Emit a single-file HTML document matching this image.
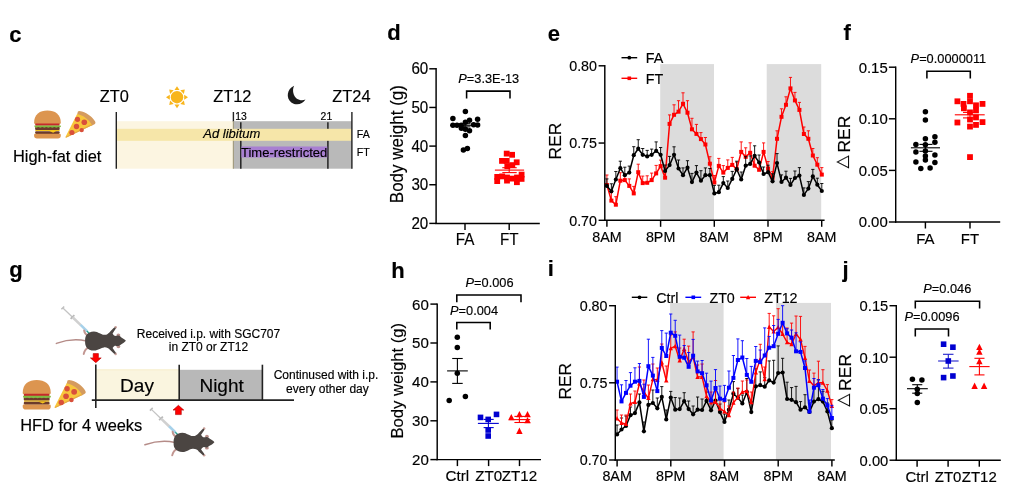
<!DOCTYPE html>
<html lang="en">
<head>
<meta charset="utf-8">
<title>Figure panels c-j</title>
<style>
html,body{margin:0;padding:0;background:#fff;}
body{width:1020px;height:494px;overflow:hidden;}
svg{display:block;filter:blur(0.38px);font-family:'Liberation Sans', Arial, sans-serif;}
svg text{stroke:#000;stroke-width:0.16px;font-family:'Liberation Sans', Arial, sans-serif;}
</style>
</head>
<body>
<svg width="1020" height="494" viewBox="0 0 1020 494">
<rect x="0" y="0" width="1020" height="494" fill="#ffffff"/>
<text transform="translate(9.3 42.4)" font-size="22" font-weight="bold">c</text>
<text transform="translate(387.3 40)" font-size="22" font-weight="bold">d</text>
<text transform="translate(547.7 40.8)" font-size="22" font-weight="bold">e</text>
<text transform="translate(843.5 40)" font-size="22" font-weight="bold">f</text>
<text transform="translate(9.3 277.3)" font-size="22" font-weight="bold">g</text>
<text transform="translate(391.3 277.5)" font-size="22" font-weight="bold">h</text>
<text transform="translate(547.8 276.4)" font-size="22" font-weight="bold">i</text>
<text transform="translate(842.5 277.3)" font-size="22" font-weight="bold">j</text>
<g id="panel-c">
<rect x="116.30" y="121.20" width="117.10" height="47.50" fill="#fcf5e1"/>
<rect x="233.40" y="121.20" width="118.50" height="47.50" fill="#b9b9b9"/>
<line x1="233.40" y1="112.00" x2="233.40" y2="121.60" stroke="#222" stroke-width="1.4"/>
<line x1="233.40" y1="121.20" x2="233.40" y2="168.70" stroke="#a39c80" stroke-width="1.2"/>
<line x1="240.80" y1="122.30" x2="240.80" y2="168.70" stroke="#222" stroke-width="1.5"/>
<line x1="327.90" y1="122.30" x2="327.90" y2="168.70" stroke="#222" stroke-width="1.5"/>
<rect x="241.50" y="146.50" width="85.70" height="11.00" fill="#a87fd1"/>
<rect x="116.30" y="128.80" width="235.60" height="12.00" fill="#f6e6a9"/>
<line x1="116.30" y1="112.00" x2="116.30" y2="168.70" stroke="#222" stroke-width="1.4"/>
<line x1="351.90" y1="112.00" x2="351.90" y2="168.70" stroke="#222" stroke-width="1.4"/>
<text transform="translate(114.3 102.3) scale(0.976 1)" font-size="16.8" text-anchor="middle">ZT0</text>
<text transform="translate(232.3 102.3) scale(0.976 1)" font-size="16.8" text-anchor="middle">ZT12</text>
<text transform="translate(351.4 102.3) scale(0.976 1)" font-size="16.8" text-anchor="middle">ZT24</text>
<text transform="translate(235.2 120)" font-size="10.4">13</text>
<text transform="translate(320.6 120)" font-size="10.4">21</text>
<text transform="translate(231.8 138.1)" font-size="13" text-anchor="middle" font-style="italic">Ad libitum</text>
<text transform="translate(284.1 156.6)" font-size="13" text-anchor="middle">Time-restricted</text>
<text transform="translate(356.8 138.3)" font-size="10.6">FA</text>
<text transform="translate(356.8 156.4)" font-size="10.6">FT</text>
<g transform="translate(33.8,110.2) scale(1.0)">
<path d="M0.3,12.6 C0.3,4 6,0.3 13.6,0.3 C21.2,0.3 27,4 27,12.6 C27,13.4 26.4,13.8 25.6,13.8 L1.7,13.8 C0.9,13.8 0.3,13.4 0.3,12.6 Z" fill="#dc9550"/>
<rect x="1.4" y="13.3" width="24.4" height="2.2" rx="0.8" fill="#c62a2c"/>
<rect x="1.3" y="16.6" width="24.6" height="3.4" rx="1.1" fill="#6b3a2b"/>
<path d="M0.6,15.2 L26.8,15.2 L27.2,16.3 L26,17.4 L24.5,16.9 L22.5,17.6 L20.5,16.9 L18.5,17.6 L16.5,16.9 L14.5,17.6 L12.5,16.9 L10.5,17.6 L8.5,16.9 L6.5,17.6 L4.5,16.9 L2.5,17.6 L0.8,16.9 Z" fill="#7fba3f"/>
<path d="M1.5,19.7 L25.8,19.7 L25.8,20.8 L22.5,20.8 L19.4,22.6 L15.5,20.9 L1.5,20.9 Z" fill="#f6c41c"/>
<rect x="1.3" y="21" width="24.6" height="2.7" rx="1.1" fill="#6b3a2b"/>
<path d="M15.5,20.9 L22.5,20.8 L19.4,22.6 Z" fill="#f6c41c"/>
<path d="M0.3,24.6 C0.3,23.9 0.9,23.5 1.6,23.5 L25.7,23.5 C26.4,23.5 27,23.9 27,24.6 L27,25.6 C27,27.4 25.8,28.3 24.2,28.3 L3.1,28.3 C1.5,28.3 0.3,27.4 0.3,25.6 Z" fill="#dc9550"/>
</g>
<g transform="translate(65.5,110.9) scale(1.0)">
<path d="M12.4,0.6 C13,-0.2 14.5,-0.1 16.5,0.6 C22.5,2.6 27.3,6.3 29.6,10.6 C30.2,11.8 30,12.8 29,13.3 L26.2,14.9 L11.6,3.6 Z" fill="#d59b5e"/>
<path d="M11.6,3.2 C18,4.6 23,8.4 26.6,14.4 L1,26.6 C0.2,27 -0.3,26.4 0.2,25.6 Z" fill="#f8c63c"/>
<path d="M26.6,14.4 L1,26.6 C0.4,26.9 0,26.6 0,26.2 L26,13.4 Z" fill="#e3a647"/>
<circle cx="12.0" cy="8.4" r="2.6" fill="#d9503b"/>
<circle cx="18.8" cy="11.4" r="2.8" fill="#d9503b"/>
<circle cx="11.0" cy="15.6" r="2.7" fill="#d9503b"/>
<circle cx="6.4" cy="21.6" r="2.6" fill="#d9503b"/>
<circle cx="16.2" cy="19.2" r="2.2" fill="#d9503b"/>
</g>
<g transform="translate(177,97.2)">
<circle cx="0" cy="0" r="6.2" fill="#f8b51c"/>
<polygon points="-2.5,-7.2 2.5,-7.2 0,-11" fill="#f8b51c" transform="rotate(0)"/>
<polygon points="-2.5,-7.2 2.5,-7.2 0,-11" fill="#f8b51c" transform="rotate(45)"/>
<polygon points="-2.5,-7.2 2.5,-7.2 0,-11" fill="#f8b51c" transform="rotate(90)"/>
<polygon points="-2.5,-7.2 2.5,-7.2 0,-11" fill="#f8b51c" transform="rotate(135)"/>
<polygon points="-2.5,-7.2 2.5,-7.2 0,-11" fill="#f8b51c" transform="rotate(180)"/>
<polygon points="-2.5,-7.2 2.5,-7.2 0,-11" fill="#f8b51c" transform="rotate(225)"/>
<polygon points="-2.5,-7.2 2.5,-7.2 0,-11" fill="#f8b51c" transform="rotate(270)"/>
<polygon points="-2.5,-7.2 2.5,-7.2 0,-11" fill="#f8b51c" transform="rotate(315)"/>
</g>
<path transform="translate(296.7,95)" d="M-2.6,-9.2 C-9.8,-6 -11,3.2 -5.4,7.4 C-0.8,10.8 5.8,9.6 8.8,4.6 C3.6,6.4 -1.4,4 -3,-0.8 C-4,-3.8 -3.8,-6.6 -2.6,-9.2 Z" fill="#1b1b1b"/>
<text transform="translate(13.0 162.2)" font-size="16.4">High-fat diet</text>
</g>
<g id="panel-d">
<line x1="436.10" y1="68.08" x2="436.10" y2="224.12" stroke="#000" stroke-width="1.45"/>
<line x1="429.30" y1="68.80" x2="436.10" y2="68.80" stroke="#000" stroke-width="1.45"/>
<text transform="translate(428.3 74.2) scale(0.96 1)" font-size="15.8" text-anchor="end">60</text>
<line x1="429.30" y1="107.45" x2="436.10" y2="107.45" stroke="#000" stroke-width="1.45"/>
<text transform="translate(428.3 112.85000000000001) scale(0.96 1)" font-size="15.8" text-anchor="end">50</text>
<line x1="429.30" y1="146.10" x2="436.10" y2="146.10" stroke="#000" stroke-width="1.45"/>
<text transform="translate(428.3 151.5) scale(0.96 1)" font-size="15.8" text-anchor="end">40</text>
<line x1="429.30" y1="184.75" x2="436.10" y2="184.75" stroke="#000" stroke-width="1.45"/>
<text transform="translate(428.3 190.15) scale(0.96 1)" font-size="15.8" text-anchor="end">30</text>
<line x1="429.30" y1="223.40" x2="436.10" y2="223.40" stroke="#000" stroke-width="1.45"/>
<text transform="translate(428.3 228.8) scale(0.96 1)" font-size="15.8" text-anchor="end">20</text>
<line x1="435.38" y1="223.40" x2="539.80" y2="223.40" stroke="#000" stroke-width="1.45"/>
<line x1="465.00" y1="223.40" x2="465.00" y2="229.90" stroke="#000" stroke-width="1.45"/>
<text transform="translate(465 245.1) scale(0.97 1)" font-size="15.7" text-anchor="middle">FA</text>
<line x1="509.20" y1="223.40" x2="509.20" y2="229.90" stroke="#000" stroke-width="1.45"/>
<text transform="translate(509.2 245.1) scale(0.97 1)" font-size="15.7" text-anchor="middle">FT</text>
<text transform="translate(403.2 203.2) rotate(-90) scale(0.972 1)" font-size="17.5">Body weight (g)</text>
<text transform="translate(458.3 83.3) scale(0.97 1)" font-size="13.2"><tspan font-style="italic">P</tspan>=3.3E-13</text>
<polyline points="466.60,98.60 466.60,91.10 510.00,91.10 510.00,98.60" fill="none" stroke="#000" stroke-width="1.55"/>
<line x1="450.00" y1="125.30" x2="479.80" y2="125.30" stroke="#000" stroke-width="1.1"/>
<line x1="465.00" y1="123.70" x2="465.00" y2="126.90" stroke="#000" stroke-width="1.1"/>
<line x1="459.50" y1="123.70" x2="470.50" y2="123.70" stroke="#000" stroke-width="1.1"/>
<line x1="459.50" y1="126.90" x2="470.50" y2="126.90" stroke="#000" stroke-width="1.1"/>
<circle cx="465.40" cy="111.50" r="2.75" fill="#000"/>
<circle cx="452.90" cy="118.60" r="2.75" fill="#000"/>
<circle cx="477.60" cy="119.20" r="2.75" fill="#000"/>
<circle cx="469.50" cy="120.20" r="2.75" fill="#000"/>
<circle cx="465.40" cy="122.30" r="2.75" fill="#000"/>
<circle cx="452.90" cy="125.30" r="2.75" fill="#000"/>
<circle cx="457.00" cy="125.30" r="2.75" fill="#000"/>
<circle cx="461.20" cy="125.30" r="2.75" fill="#000"/>
<circle cx="473.60" cy="124.80" r="2.75" fill="#000"/>
<circle cx="477.60" cy="125.00" r="2.75" fill="#000"/>
<circle cx="461.40" cy="128.30" r="2.75" fill="#000"/>
<circle cx="469.50" cy="130.80" r="2.75" fill="#000"/>
<circle cx="465.40" cy="129.30" r="2.75" fill="#000"/>
<circle cx="465.40" cy="135.40" r="2.75" fill="#000"/>
<circle cx="463.40" cy="150.00" r="2.75" fill="#000"/>
<circle cx="467.40" cy="148.40" r="2.75" fill="#000"/>
<rect x="503.80" y="150.70" width="5.80" height="5.80" fill="#ff0000"/>
<rect x="509.20" y="151.90" width="5.80" height="5.80" fill="#ff0000"/>
<rect x="499.10" y="158.00" width="5.80" height="5.80" fill="#ff0000"/>
<rect x="503.80" y="158.00" width="5.80" height="5.80" fill="#ff0000"/>
<rect x="513.80" y="159.40" width="5.80" height="5.80" fill="#ff0000"/>
<rect x="504.40" y="163.30" width="5.80" height="5.80" fill="#ff0000"/>
<rect x="509.40" y="162.20" width="5.80" height="5.80" fill="#ff0000"/>
<rect x="494.30" y="174.00" width="5.80" height="5.80" fill="#ff0000"/>
<rect x="494.30" y="178.20" width="5.80" height="5.80" fill="#ff0000"/>
<rect x="499.30" y="173.50" width="5.80" height="5.80" fill="#ff0000"/>
<rect x="504.10" y="174.60" width="5.80" height="5.80" fill="#ff0000"/>
<rect x="504.10" y="177.70" width="5.80" height="5.80" fill="#ff0000"/>
<rect x="509.10" y="175.70" width="5.80" height="5.80" fill="#ff0000"/>
<rect x="514.00" y="179.30" width="5.80" height="5.80" fill="#ff0000"/>
<rect x="514.10" y="174.60" width="5.80" height="5.80" fill="#ff0000"/>
<rect x="518.70" y="171.70" width="5.80" height="5.80" fill="#ff0000"/>
<rect x="518.70" y="176.00" width="5.80" height="5.80" fill="#ff0000"/>
<line x1="494.90" y1="170.10" x2="524.10" y2="170.10" stroke="#ff0000" stroke-width="1.1"/>
<line x1="509.20" y1="167.70" x2="509.20" y2="172.60" stroke="#ff0000" stroke-width="1.1"/>
<line x1="502.30" y1="167.70" x2="516.70" y2="167.70" stroke="#ff0000" stroke-width="1.1"/>
<line x1="502.30" y1="172.60" x2="516.70" y2="172.60" stroke="#ff0000" stroke-width="1.1"/>
</g>
<g id="panel-e">
<rect x="660.20" y="64.10" width="53.80" height="156.50" fill="#dcdcdc"/>
<rect x="766.70" y="64.10" width="54.50" height="156.50" fill="#dcdcdc"/>
<line x1="606.90" y1="185.00" x2="606.90" y2="175.00" stroke="#ff0000" stroke-width="0.9"/>
<line x1="605.30" y1="175.00" x2="608.50" y2="175.00" stroke="#ff0000" stroke-width="0.9"/>
<line x1="611.38" y1="200.60" x2="611.38" y2="192.60" stroke="#ff0000" stroke-width="0.9"/>
<line x1="609.78" y1="192.60" x2="612.98" y2="192.60" stroke="#ff0000" stroke-width="0.9"/>
<line x1="615.85" y1="204.70" x2="615.85" y2="196.70" stroke="#ff0000" stroke-width="0.9"/>
<line x1="614.25" y1="196.70" x2="617.45" y2="196.70" stroke="#ff0000" stroke-width="0.9"/>
<line x1="620.33" y1="180.70" x2="620.33" y2="172.70" stroke="#ff0000" stroke-width="0.9"/>
<line x1="618.73" y1="172.70" x2="621.93" y2="172.70" stroke="#ff0000" stroke-width="0.9"/>
<line x1="624.81" y1="180.10" x2="624.81" y2="174.10" stroke="#ff0000" stroke-width="0.9"/>
<line x1="623.21" y1="174.10" x2="626.41" y2="174.10" stroke="#ff0000" stroke-width="0.9"/>
<line x1="629.28" y1="185.90" x2="629.28" y2="178.90" stroke="#ff0000" stroke-width="0.9"/>
<line x1="627.68" y1="178.90" x2="630.88" y2="178.90" stroke="#ff0000" stroke-width="0.9"/>
<line x1="633.76" y1="193.40" x2="633.76" y2="186.40" stroke="#ff0000" stroke-width="0.9"/>
<line x1="632.16" y1="186.40" x2="635.36" y2="186.40" stroke="#ff0000" stroke-width="0.9"/>
<line x1="638.24" y1="172.20" x2="638.24" y2="164.20" stroke="#ff0000" stroke-width="0.9"/>
<line x1="636.64" y1="164.20" x2="639.84" y2="164.20" stroke="#ff0000" stroke-width="0.9"/>
<line x1="642.72" y1="183.10" x2="642.72" y2="176.10" stroke="#ff0000" stroke-width="0.9"/>
<line x1="641.12" y1="176.10" x2="644.32" y2="176.10" stroke="#ff0000" stroke-width="0.9"/>
<line x1="647.19" y1="182.80" x2="647.19" y2="175.80" stroke="#ff0000" stroke-width="0.9"/>
<line x1="645.59" y1="175.80" x2="648.79" y2="175.80" stroke="#ff0000" stroke-width="0.9"/>
<line x1="651.67" y1="180.10" x2="651.67" y2="173.10" stroke="#ff0000" stroke-width="0.9"/>
<line x1="650.07" y1="173.10" x2="653.27" y2="173.10" stroke="#ff0000" stroke-width="0.9"/>
<line x1="656.15" y1="173.40" x2="656.15" y2="165.40" stroke="#ff0000" stroke-width="0.9"/>
<line x1="654.55" y1="165.40" x2="657.75" y2="165.40" stroke="#ff0000" stroke-width="0.9"/>
<line x1="660.62" y1="166.10" x2="660.62" y2="160.10" stroke="#ff0000" stroke-width="0.9"/>
<line x1="659.02" y1="160.10" x2="662.22" y2="160.10" stroke="#ff0000" stroke-width="0.9"/>
<line x1="665.10" y1="177.70" x2="665.10" y2="171.70" stroke="#ff0000" stroke-width="0.9"/>
<line x1="663.50" y1="171.70" x2="666.70" y2="171.70" stroke="#ff0000" stroke-width="0.9"/>
<line x1="669.58" y1="123.90" x2="669.58" y2="114.90" stroke="#ff0000" stroke-width="0.9"/>
<line x1="667.98" y1="114.90" x2="671.18" y2="114.90" stroke="#ff0000" stroke-width="0.9"/>
<line x1="674.05" y1="114.80" x2="674.05" y2="104.80" stroke="#ff0000" stroke-width="0.9"/>
<line x1="672.45" y1="104.80" x2="675.65" y2="104.80" stroke="#ff0000" stroke-width="0.9"/>
<line x1="678.53" y1="111.70" x2="678.53" y2="100.70" stroke="#ff0000" stroke-width="0.9"/>
<line x1="676.93" y1="100.70" x2="680.13" y2="100.70" stroke="#ff0000" stroke-width="0.9"/>
<line x1="683.01" y1="103.80" x2="683.01" y2="92.80" stroke="#ff0000" stroke-width="0.9"/>
<line x1="681.41" y1="92.80" x2="684.61" y2="92.80" stroke="#ff0000" stroke-width="0.9"/>
<line x1="687.49" y1="112.70" x2="687.49" y2="100.70" stroke="#ff0000" stroke-width="0.9"/>
<line x1="685.89" y1="100.70" x2="689.09" y2="100.70" stroke="#ff0000" stroke-width="0.9"/>
<line x1="691.96" y1="129.30" x2="691.96" y2="118.30" stroke="#ff0000" stroke-width="0.9"/>
<line x1="690.36" y1="118.30" x2="693.56" y2="118.30" stroke="#ff0000" stroke-width="0.9"/>
<line x1="696.44" y1="133.90" x2="696.44" y2="124.40" stroke="#ff0000" stroke-width="0.9"/>
<line x1="694.84" y1="124.40" x2="698.04" y2="124.40" stroke="#ff0000" stroke-width="0.9"/>
<line x1="700.92" y1="139.10" x2="700.92" y2="132.60" stroke="#ff0000" stroke-width="0.9"/>
<line x1="699.32" y1="132.60" x2="702.52" y2="132.60" stroke="#ff0000" stroke-width="0.9"/>
<line x1="705.39" y1="144.50" x2="705.39" y2="137.50" stroke="#ff0000" stroke-width="0.9"/>
<line x1="703.79" y1="137.50" x2="706.99" y2="137.50" stroke="#ff0000" stroke-width="0.9"/>
<line x1="709.87" y1="163.70" x2="709.87" y2="156.70" stroke="#ff0000" stroke-width="0.9"/>
<line x1="708.27" y1="156.70" x2="711.47" y2="156.70" stroke="#ff0000" stroke-width="0.9"/>
<line x1="714.35" y1="182.50" x2="714.35" y2="175.50" stroke="#ff0000" stroke-width="0.9"/>
<line x1="712.75" y1="175.50" x2="715.95" y2="175.50" stroke="#ff0000" stroke-width="0.9"/>
<line x1="718.83" y1="165.90" x2="718.83" y2="158.40" stroke="#ff0000" stroke-width="0.9"/>
<line x1="717.23" y1="158.40" x2="720.43" y2="158.40" stroke="#ff0000" stroke-width="0.9"/>
<line x1="723.30" y1="172.60" x2="723.30" y2="165.60" stroke="#ff0000" stroke-width="0.9"/>
<line x1="721.70" y1="165.60" x2="724.90" y2="165.60" stroke="#ff0000" stroke-width="0.9"/>
<line x1="727.78" y1="167.90" x2="727.78" y2="159.90" stroke="#ff0000" stroke-width="0.9"/>
<line x1="726.18" y1="159.90" x2="729.38" y2="159.90" stroke="#ff0000" stroke-width="0.9"/>
<line x1="732.26" y1="164.90" x2="732.26" y2="157.40" stroke="#ff0000" stroke-width="0.9"/>
<line x1="730.66" y1="157.40" x2="733.86" y2="157.40" stroke="#ff0000" stroke-width="0.9"/>
<line x1="736.73" y1="169.20" x2="736.73" y2="162.20" stroke="#ff0000" stroke-width="0.9"/>
<line x1="735.13" y1="162.20" x2="738.33" y2="162.20" stroke="#ff0000" stroke-width="0.9"/>
<line x1="741.21" y1="151.90" x2="741.21" y2="141.90" stroke="#ff0000" stroke-width="0.9"/>
<line x1="739.61" y1="141.90" x2="742.81" y2="141.90" stroke="#ff0000" stroke-width="0.9"/>
<line x1="745.69" y1="156.80" x2="745.69" y2="147.80" stroke="#ff0000" stroke-width="0.9"/>
<line x1="744.09" y1="147.80" x2="747.29" y2="147.80" stroke="#ff0000" stroke-width="0.9"/>
<line x1="750.16" y1="152.80" x2="750.16" y2="142.80" stroke="#ff0000" stroke-width="0.9"/>
<line x1="748.56" y1="142.80" x2="751.76" y2="142.80" stroke="#ff0000" stroke-width="0.9"/>
<line x1="754.64" y1="165.70" x2="754.64" y2="157.70" stroke="#ff0000" stroke-width="0.9"/>
<line x1="753.04" y1="157.70" x2="756.24" y2="157.70" stroke="#ff0000" stroke-width="0.9"/>
<line x1="759.12" y1="169.80" x2="759.12" y2="162.80" stroke="#ff0000" stroke-width="0.9"/>
<line x1="757.52" y1="162.80" x2="760.72" y2="162.80" stroke="#ff0000" stroke-width="0.9"/>
<line x1="763.60" y1="151.90" x2="763.60" y2="142.90" stroke="#ff0000" stroke-width="0.9"/>
<line x1="762.00" y1="142.90" x2="765.20" y2="142.90" stroke="#ff0000" stroke-width="0.9"/>
<line x1="768.07" y1="168.50" x2="768.07" y2="161.50" stroke="#ff0000" stroke-width="0.9"/>
<line x1="766.47" y1="161.50" x2="769.67" y2="161.50" stroke="#ff0000" stroke-width="0.9"/>
<line x1="772.55" y1="177.70" x2="772.55" y2="171.70" stroke="#ff0000" stroke-width="0.9"/>
<line x1="770.95" y1="171.70" x2="774.15" y2="171.70" stroke="#ff0000" stroke-width="0.9"/>
<line x1="777.03" y1="138.80" x2="777.03" y2="130.80" stroke="#ff0000" stroke-width="0.9"/>
<line x1="775.43" y1="130.80" x2="778.63" y2="130.80" stroke="#ff0000" stroke-width="0.9"/>
<line x1="781.50" y1="116.80" x2="781.50" y2="108.80" stroke="#ff0000" stroke-width="0.9"/>
<line x1="779.90" y1="108.80" x2="783.10" y2="108.80" stroke="#ff0000" stroke-width="0.9"/>
<line x1="785.98" y1="104.80" x2="785.98" y2="96.80" stroke="#ff0000" stroke-width="0.9"/>
<line x1="784.38" y1="96.80" x2="787.58" y2="96.80" stroke="#ff0000" stroke-width="0.9"/>
<line x1="790.46" y1="88.40" x2="790.46" y2="77.40" stroke="#ff0000" stroke-width="0.9"/>
<line x1="788.86" y1="77.40" x2="792.06" y2="77.40" stroke="#ff0000" stroke-width="0.9"/>
<line x1="794.93" y1="100.40" x2="794.93" y2="92.40" stroke="#ff0000" stroke-width="0.9"/>
<line x1="793.33" y1="92.40" x2="796.53" y2="92.40" stroke="#ff0000" stroke-width="0.9"/>
<line x1="799.41" y1="109.90" x2="799.41" y2="102.40" stroke="#ff0000" stroke-width="0.9"/>
<line x1="797.81" y1="102.40" x2="801.01" y2="102.40" stroke="#ff0000" stroke-width="0.9"/>
<line x1="803.89" y1="134.00" x2="803.89" y2="127.00" stroke="#ff0000" stroke-width="0.9"/>
<line x1="802.29" y1="127.00" x2="805.49" y2="127.00" stroke="#ff0000" stroke-width="0.9"/>
<line x1="808.37" y1="138.80" x2="808.37" y2="130.80" stroke="#ff0000" stroke-width="0.9"/>
<line x1="806.76" y1="130.80" x2="809.97" y2="130.80" stroke="#ff0000" stroke-width="0.9"/>
<line x1="812.84" y1="155.50" x2="812.84" y2="148.50" stroke="#ff0000" stroke-width="0.9"/>
<line x1="811.24" y1="148.50" x2="814.44" y2="148.50" stroke="#ff0000" stroke-width="0.9"/>
<line x1="817.32" y1="164.70" x2="817.32" y2="157.70" stroke="#ff0000" stroke-width="0.9"/>
<line x1="815.72" y1="157.70" x2="818.92" y2="157.70" stroke="#ff0000" stroke-width="0.9"/>
<line x1="821.80" y1="174.60" x2="821.80" y2="167.60" stroke="#ff0000" stroke-width="0.9"/>
<line x1="820.20" y1="167.60" x2="823.40" y2="167.60" stroke="#ff0000" stroke-width="0.9"/>
<polyline points="606.90,185.00 611.38,200.60 615.85,204.70 620.33,180.70 624.81,180.10 629.28,185.90 633.76,193.40 638.24,172.20 642.72,183.10 647.19,182.80 651.67,180.10 656.15,173.40 660.62,166.10 665.10,177.70 669.58,123.90 674.05,114.80 678.53,111.70 683.01,103.80 687.49,112.70 691.96,129.30 696.44,133.90 700.92,139.10 705.39,144.50 709.87,163.70 714.35,182.50 718.83,165.90 723.30,172.60 727.78,167.90 732.26,164.90 736.73,169.20 741.21,151.90 745.69,156.80 750.16,152.80 754.64,165.70 759.12,169.80 763.60,151.90 768.07,168.50 772.55,177.70 777.03,138.80 781.50,116.80 785.98,104.80 790.46,88.40 794.93,100.40 799.41,109.90 803.89,134.00 808.37,138.80 812.84,155.50 817.32,164.70 821.80,174.60" fill="none" stroke="#ff0000" stroke-width="1.5" stroke-linejoin="round"/>
<rect x="604.90" y="183.00" width="4.00" height="4.00" fill="#ff0000"/>
<rect x="609.38" y="198.60" width="4.00" height="4.00" fill="#ff0000"/>
<rect x="613.85" y="202.70" width="4.00" height="4.00" fill="#ff0000"/>
<rect x="618.33" y="178.70" width="4.00" height="4.00" fill="#ff0000"/>
<rect x="622.81" y="178.10" width="4.00" height="4.00" fill="#ff0000"/>
<rect x="627.28" y="183.90" width="4.00" height="4.00" fill="#ff0000"/>
<rect x="631.76" y="191.40" width="4.00" height="4.00" fill="#ff0000"/>
<rect x="636.24" y="170.20" width="4.00" height="4.00" fill="#ff0000"/>
<rect x="640.72" y="181.10" width="4.00" height="4.00" fill="#ff0000"/>
<rect x="645.19" y="180.80" width="4.00" height="4.00" fill="#ff0000"/>
<rect x="649.67" y="178.10" width="4.00" height="4.00" fill="#ff0000"/>
<rect x="654.15" y="171.40" width="4.00" height="4.00" fill="#ff0000"/>
<rect x="658.62" y="164.10" width="4.00" height="4.00" fill="#ff0000"/>
<rect x="663.10" y="175.70" width="4.00" height="4.00" fill="#ff0000"/>
<rect x="667.58" y="121.90" width="4.00" height="4.00" fill="#ff0000"/>
<rect x="672.05" y="112.80" width="4.00" height="4.00" fill="#ff0000"/>
<rect x="676.53" y="109.70" width="4.00" height="4.00" fill="#ff0000"/>
<rect x="681.01" y="101.80" width="4.00" height="4.00" fill="#ff0000"/>
<rect x="685.49" y="110.70" width="4.00" height="4.00" fill="#ff0000"/>
<rect x="689.96" y="127.30" width="4.00" height="4.00" fill="#ff0000"/>
<rect x="694.44" y="131.90" width="4.00" height="4.00" fill="#ff0000"/>
<rect x="698.92" y="137.10" width="4.00" height="4.00" fill="#ff0000"/>
<rect x="703.39" y="142.50" width="4.00" height="4.00" fill="#ff0000"/>
<rect x="707.87" y="161.70" width="4.00" height="4.00" fill="#ff0000"/>
<rect x="712.35" y="180.50" width="4.00" height="4.00" fill="#ff0000"/>
<rect x="716.83" y="163.90" width="4.00" height="4.00" fill="#ff0000"/>
<rect x="721.30" y="170.60" width="4.00" height="4.00" fill="#ff0000"/>
<rect x="725.78" y="165.90" width="4.00" height="4.00" fill="#ff0000"/>
<rect x="730.26" y="162.90" width="4.00" height="4.00" fill="#ff0000"/>
<rect x="734.73" y="167.20" width="4.00" height="4.00" fill="#ff0000"/>
<rect x="739.21" y="149.90" width="4.00" height="4.00" fill="#ff0000"/>
<rect x="743.69" y="154.80" width="4.00" height="4.00" fill="#ff0000"/>
<rect x="748.16" y="150.80" width="4.00" height="4.00" fill="#ff0000"/>
<rect x="752.64" y="163.70" width="4.00" height="4.00" fill="#ff0000"/>
<rect x="757.12" y="167.80" width="4.00" height="4.00" fill="#ff0000"/>
<rect x="761.60" y="149.90" width="4.00" height="4.00" fill="#ff0000"/>
<rect x="766.07" y="166.50" width="4.00" height="4.00" fill="#ff0000"/>
<rect x="770.55" y="175.70" width="4.00" height="4.00" fill="#ff0000"/>
<rect x="775.03" y="136.80" width="4.00" height="4.00" fill="#ff0000"/>
<rect x="779.50" y="114.80" width="4.00" height="4.00" fill="#ff0000"/>
<rect x="783.98" y="102.80" width="4.00" height="4.00" fill="#ff0000"/>
<rect x="788.46" y="86.40" width="4.00" height="4.00" fill="#ff0000"/>
<rect x="792.93" y="98.40" width="4.00" height="4.00" fill="#ff0000"/>
<rect x="797.41" y="107.90" width="4.00" height="4.00" fill="#ff0000"/>
<rect x="801.89" y="132.00" width="4.00" height="4.00" fill="#ff0000"/>
<rect x="806.37" y="136.80" width="4.00" height="4.00" fill="#ff0000"/>
<rect x="810.84" y="153.50" width="4.00" height="4.00" fill="#ff0000"/>
<rect x="815.32" y="162.70" width="4.00" height="4.00" fill="#ff0000"/>
<rect x="819.80" y="172.60" width="4.00" height="4.00" fill="#ff0000"/>
<line x1="606.90" y1="185.90" x2="606.90" y2="178.90" stroke="#000" stroke-width="0.9"/>
<line x1="605.30" y1="178.90" x2="608.50" y2="178.90" stroke="#000" stroke-width="0.9"/>
<line x1="611.38" y1="191.30" x2="611.38" y2="183.80" stroke="#000" stroke-width="0.9"/>
<line x1="609.78" y1="183.80" x2="612.98" y2="183.80" stroke="#000" stroke-width="0.9"/>
<line x1="615.85" y1="179.50" x2="615.85" y2="171.50" stroke="#000" stroke-width="0.9"/>
<line x1="614.25" y1="171.50" x2="617.45" y2="171.50" stroke="#000" stroke-width="0.9"/>
<line x1="620.33" y1="168.20" x2="620.33" y2="161.20" stroke="#000" stroke-width="0.9"/>
<line x1="618.73" y1="161.20" x2="621.93" y2="161.20" stroke="#000" stroke-width="0.9"/>
<line x1="624.81" y1="175.20" x2="624.81" y2="167.20" stroke="#000" stroke-width="0.9"/>
<line x1="623.21" y1="167.20" x2="626.41" y2="167.20" stroke="#000" stroke-width="0.9"/>
<line x1="629.28" y1="172.60" x2="629.28" y2="166.10" stroke="#000" stroke-width="0.9"/>
<line x1="627.68" y1="166.10" x2="630.88" y2="166.10" stroke="#000" stroke-width="0.9"/>
<line x1="633.76" y1="155.20" x2="633.76" y2="146.70" stroke="#000" stroke-width="0.9"/>
<line x1="632.16" y1="146.70" x2="635.36" y2="146.70" stroke="#000" stroke-width="0.9"/>
<line x1="638.24" y1="148.70" x2="638.24" y2="139.70" stroke="#000" stroke-width="0.9"/>
<line x1="636.64" y1="139.70" x2="639.84" y2="139.70" stroke="#000" stroke-width="0.9"/>
<line x1="642.72" y1="154.80" x2="642.72" y2="148.50" stroke="#000" stroke-width="0.9"/>
<line x1="641.12" y1="148.50" x2="644.32" y2="148.50" stroke="#000" stroke-width="0.9"/>
<line x1="647.19" y1="156.40" x2="647.19" y2="150.40" stroke="#000" stroke-width="0.9"/>
<line x1="645.59" y1="150.40" x2="648.79" y2="150.40" stroke="#000" stroke-width="0.9"/>
<line x1="651.67" y1="154.80" x2="651.67" y2="149.10" stroke="#000" stroke-width="0.9"/>
<line x1="650.07" y1="149.10" x2="653.27" y2="149.10" stroke="#000" stroke-width="0.9"/>
<line x1="656.15" y1="150.90" x2="656.15" y2="141.90" stroke="#000" stroke-width="0.9"/>
<line x1="654.55" y1="141.90" x2="657.75" y2="141.90" stroke="#000" stroke-width="0.9"/>
<line x1="660.62" y1="154.80" x2="660.62" y2="147.50" stroke="#000" stroke-width="0.9"/>
<line x1="659.02" y1="147.50" x2="662.22" y2="147.50" stroke="#000" stroke-width="0.9"/>
<line x1="665.10" y1="171.00" x2="665.10" y2="165.00" stroke="#000" stroke-width="0.9"/>
<line x1="663.50" y1="165.00" x2="666.70" y2="165.00" stroke="#000" stroke-width="0.9"/>
<line x1="669.58" y1="165.10" x2="669.58" y2="156.40" stroke="#000" stroke-width="0.9"/>
<line x1="667.98" y1="156.40" x2="671.18" y2="156.40" stroke="#000" stroke-width="0.9"/>
<line x1="674.05" y1="154.80" x2="674.05" y2="146.80" stroke="#000" stroke-width="0.9"/>
<line x1="672.45" y1="146.80" x2="675.65" y2="146.80" stroke="#000" stroke-width="0.9"/>
<line x1="678.53" y1="168.50" x2="678.53" y2="160.00" stroke="#000" stroke-width="0.9"/>
<line x1="676.93" y1="160.00" x2="680.13" y2="160.00" stroke="#000" stroke-width="0.9"/>
<line x1="683.01" y1="175.20" x2="683.01" y2="167.90" stroke="#000" stroke-width="0.9"/>
<line x1="681.41" y1="167.90" x2="684.61" y2="167.90" stroke="#000" stroke-width="0.9"/>
<line x1="687.49" y1="167.70" x2="687.49" y2="160.70" stroke="#000" stroke-width="0.9"/>
<line x1="685.89" y1="160.70" x2="689.09" y2="160.70" stroke="#000" stroke-width="0.9"/>
<line x1="691.96" y1="182.10" x2="691.96" y2="173.40" stroke="#000" stroke-width="0.9"/>
<line x1="690.36" y1="173.40" x2="693.56" y2="173.40" stroke="#000" stroke-width="0.9"/>
<line x1="696.44" y1="172.60" x2="696.44" y2="165.60" stroke="#000" stroke-width="0.9"/>
<line x1="694.84" y1="165.60" x2="698.04" y2="165.60" stroke="#000" stroke-width="0.9"/>
<line x1="700.92" y1="180.70" x2="700.92" y2="170.70" stroke="#000" stroke-width="0.9"/>
<line x1="699.32" y1="170.70" x2="702.52" y2="170.70" stroke="#000" stroke-width="0.9"/>
<line x1="705.39" y1="175.20" x2="705.39" y2="167.90" stroke="#000" stroke-width="0.9"/>
<line x1="703.79" y1="167.90" x2="706.99" y2="167.90" stroke="#000" stroke-width="0.9"/>
<line x1="709.87" y1="175.20" x2="709.87" y2="168.50" stroke="#000" stroke-width="0.9"/>
<line x1="708.27" y1="168.50" x2="711.47" y2="168.50" stroke="#000" stroke-width="0.9"/>
<line x1="714.35" y1="193.40" x2="714.35" y2="185.40" stroke="#000" stroke-width="0.9"/>
<line x1="712.75" y1="185.40" x2="715.95" y2="185.40" stroke="#000" stroke-width="0.9"/>
<line x1="718.83" y1="192.20" x2="718.83" y2="185.20" stroke="#000" stroke-width="0.9"/>
<line x1="717.23" y1="185.20" x2="720.43" y2="185.20" stroke="#000" stroke-width="0.9"/>
<line x1="723.30" y1="183.10" x2="723.30" y2="176.60" stroke="#000" stroke-width="0.9"/>
<line x1="721.70" y1="176.60" x2="724.90" y2="176.60" stroke="#000" stroke-width="0.9"/>
<line x1="727.78" y1="188.00" x2="727.78" y2="181.00" stroke="#000" stroke-width="0.9"/>
<line x1="726.18" y1="181.00" x2="729.38" y2="181.00" stroke="#000" stroke-width="0.9"/>
<line x1="732.26" y1="178.90" x2="732.26" y2="171.40" stroke="#000" stroke-width="0.9"/>
<line x1="730.66" y1="171.40" x2="733.86" y2="171.40" stroke="#000" stroke-width="0.9"/>
<line x1="736.73" y1="169.20" x2="736.73" y2="161.20" stroke="#000" stroke-width="0.9"/>
<line x1="735.13" y1="161.20" x2="738.33" y2="161.20" stroke="#000" stroke-width="0.9"/>
<line x1="741.21" y1="179.50" x2="741.21" y2="172.00" stroke="#000" stroke-width="0.9"/>
<line x1="739.61" y1="172.00" x2="742.81" y2="172.00" stroke="#000" stroke-width="0.9"/>
<line x1="745.69" y1="165.70" x2="745.69" y2="156.70" stroke="#000" stroke-width="0.9"/>
<line x1="744.09" y1="156.70" x2="747.29" y2="156.70" stroke="#000" stroke-width="0.9"/>
<line x1="750.16" y1="163.90" x2="750.16" y2="155.90" stroke="#000" stroke-width="0.9"/>
<line x1="748.56" y1="155.90" x2="751.76" y2="155.90" stroke="#000" stroke-width="0.9"/>
<line x1="754.64" y1="155.80" x2="754.64" y2="145.80" stroke="#000" stroke-width="0.9"/>
<line x1="753.04" y1="145.80" x2="756.24" y2="145.80" stroke="#000" stroke-width="0.9"/>
<line x1="759.12" y1="162.50" x2="759.12" y2="155.00" stroke="#000" stroke-width="0.9"/>
<line x1="757.52" y1="155.00" x2="760.72" y2="155.00" stroke="#000" stroke-width="0.9"/>
<line x1="763.60" y1="174.00" x2="763.60" y2="167.00" stroke="#000" stroke-width="0.9"/>
<line x1="762.00" y1="167.00" x2="765.20" y2="167.00" stroke="#000" stroke-width="0.9"/>
<line x1="768.07" y1="172.20" x2="768.07" y2="165.20" stroke="#000" stroke-width="0.9"/>
<line x1="766.47" y1="165.20" x2="769.67" y2="165.20" stroke="#000" stroke-width="0.9"/>
<line x1="772.55" y1="181.30" x2="772.55" y2="173.80" stroke="#000" stroke-width="0.9"/>
<line x1="770.95" y1="173.80" x2="774.15" y2="173.80" stroke="#000" stroke-width="0.9"/>
<line x1="777.03" y1="163.10" x2="777.03" y2="153.60" stroke="#000" stroke-width="0.9"/>
<line x1="775.43" y1="153.60" x2="778.63" y2="153.60" stroke="#000" stroke-width="0.9"/>
<line x1="781.50" y1="181.90" x2="781.50" y2="174.90" stroke="#000" stroke-width="0.9"/>
<line x1="779.90" y1="174.90" x2="783.10" y2="174.90" stroke="#000" stroke-width="0.9"/>
<line x1="785.98" y1="177.70" x2="785.98" y2="171.20" stroke="#000" stroke-width="0.9"/>
<line x1="784.38" y1="171.20" x2="787.58" y2="171.20" stroke="#000" stroke-width="0.9"/>
<line x1="790.46" y1="184.90" x2="790.46" y2="178.40" stroke="#000" stroke-width="0.9"/>
<line x1="788.86" y1="178.40" x2="792.06" y2="178.40" stroke="#000" stroke-width="0.9"/>
<line x1="794.93" y1="178.00" x2="794.93" y2="171.00" stroke="#000" stroke-width="0.9"/>
<line x1="793.33" y1="171.00" x2="796.53" y2="171.00" stroke="#000" stroke-width="0.9"/>
<line x1="799.41" y1="175.60" x2="799.41" y2="167.60" stroke="#000" stroke-width="0.9"/>
<line x1="797.81" y1="167.60" x2="801.01" y2="167.60" stroke="#000" stroke-width="0.9"/>
<line x1="803.89" y1="194.90" x2="803.89" y2="187.90" stroke="#000" stroke-width="0.9"/>
<line x1="802.29" y1="187.90" x2="805.49" y2="187.90" stroke="#000" stroke-width="0.9"/>
<line x1="808.37" y1="188.60" x2="808.37" y2="181.60" stroke="#000" stroke-width="0.9"/>
<line x1="806.76" y1="181.60" x2="809.97" y2="181.60" stroke="#000" stroke-width="0.9"/>
<line x1="812.84" y1="176.40" x2="812.84" y2="169.40" stroke="#000" stroke-width="0.9"/>
<line x1="811.24" y1="169.40" x2="814.44" y2="169.40" stroke="#000" stroke-width="0.9"/>
<line x1="817.32" y1="184.70" x2="817.32" y2="178.20" stroke="#000" stroke-width="0.9"/>
<line x1="815.72" y1="178.20" x2="818.92" y2="178.20" stroke="#000" stroke-width="0.9"/>
<line x1="821.80" y1="191.00" x2="821.80" y2="183.50" stroke="#000" stroke-width="0.9"/>
<line x1="820.20" y1="183.50" x2="823.40" y2="183.50" stroke="#000" stroke-width="0.9"/>
<polyline points="606.90,185.90 611.38,191.30 615.85,179.50 620.33,168.20 624.81,175.20 629.28,172.60 633.76,155.20 638.24,148.70 642.72,154.80 647.19,156.40 651.67,154.80 656.15,150.90 660.62,154.80 665.10,171.00 669.58,165.10 674.05,154.80 678.53,168.50 683.01,175.20 687.49,167.70 691.96,182.10 696.44,172.60 700.92,180.70 705.39,175.20 709.87,175.20 714.35,193.40 718.83,192.20 723.30,183.10 727.78,188.00 732.26,178.90 736.73,169.20 741.21,179.50 745.69,165.70 750.16,163.90 754.64,155.80 759.12,162.50 763.60,174.00 768.07,172.20 772.55,181.30 777.03,163.10 781.50,181.90 785.98,177.70 790.46,184.90 794.93,178.00 799.41,175.60 803.89,194.90 808.37,188.60 812.84,176.40 817.32,184.70 821.80,191.00" fill="none" stroke="#000" stroke-width="1.5" stroke-linejoin="round"/>
<circle cx="606.90" cy="185.90" r="2.1" fill="#000"/>
<circle cx="611.38" cy="191.30" r="2.1" fill="#000"/>
<circle cx="615.85" cy="179.50" r="2.1" fill="#000"/>
<circle cx="620.33" cy="168.20" r="2.1" fill="#000"/>
<circle cx="624.81" cy="175.20" r="2.1" fill="#000"/>
<circle cx="629.28" cy="172.60" r="2.1" fill="#000"/>
<circle cx="633.76" cy="155.20" r="2.1" fill="#000"/>
<circle cx="638.24" cy="148.70" r="2.1" fill="#000"/>
<circle cx="642.72" cy="154.80" r="2.1" fill="#000"/>
<circle cx="647.19" cy="156.40" r="2.1" fill="#000"/>
<circle cx="651.67" cy="154.80" r="2.1" fill="#000"/>
<circle cx="656.15" cy="150.90" r="2.1" fill="#000"/>
<circle cx="660.62" cy="154.80" r="2.1" fill="#000"/>
<circle cx="665.10" cy="171.00" r="2.1" fill="#000"/>
<circle cx="669.58" cy="165.10" r="2.1" fill="#000"/>
<circle cx="674.05" cy="154.80" r="2.1" fill="#000"/>
<circle cx="678.53" cy="168.50" r="2.1" fill="#000"/>
<circle cx="683.01" cy="175.20" r="2.1" fill="#000"/>
<circle cx="687.49" cy="167.70" r="2.1" fill="#000"/>
<circle cx="691.96" cy="182.10" r="2.1" fill="#000"/>
<circle cx="696.44" cy="172.60" r="2.1" fill="#000"/>
<circle cx="700.92" cy="180.70" r="2.1" fill="#000"/>
<circle cx="705.39" cy="175.20" r="2.1" fill="#000"/>
<circle cx="709.87" cy="175.20" r="2.1" fill="#000"/>
<circle cx="714.35" cy="193.40" r="2.1" fill="#000"/>
<circle cx="718.83" cy="192.20" r="2.1" fill="#000"/>
<circle cx="723.30" cy="183.10" r="2.1" fill="#000"/>
<circle cx="727.78" cy="188.00" r="2.1" fill="#000"/>
<circle cx="732.26" cy="178.90" r="2.1" fill="#000"/>
<circle cx="736.73" cy="169.20" r="2.1" fill="#000"/>
<circle cx="741.21" cy="179.50" r="2.1" fill="#000"/>
<circle cx="745.69" cy="165.70" r="2.1" fill="#000"/>
<circle cx="750.16" cy="163.90" r="2.1" fill="#000"/>
<circle cx="754.64" cy="155.80" r="2.1" fill="#000"/>
<circle cx="759.12" cy="162.50" r="2.1" fill="#000"/>
<circle cx="763.60" cy="174.00" r="2.1" fill="#000"/>
<circle cx="768.07" cy="172.20" r="2.1" fill="#000"/>
<circle cx="772.55" cy="181.30" r="2.1" fill="#000"/>
<circle cx="777.03" cy="163.10" r="2.1" fill="#000"/>
<circle cx="781.50" cy="181.90" r="2.1" fill="#000"/>
<circle cx="785.98" cy="177.70" r="2.1" fill="#000"/>
<circle cx="790.46" cy="184.90" r="2.1" fill="#000"/>
<circle cx="794.93" cy="178.00" r="2.1" fill="#000"/>
<circle cx="799.41" cy="175.60" r="2.1" fill="#000"/>
<circle cx="803.89" cy="194.90" r="2.1" fill="#000"/>
<circle cx="808.37" cy="188.60" r="2.1" fill="#000"/>
<circle cx="812.84" cy="176.40" r="2.1" fill="#000"/>
<circle cx="817.32" cy="184.70" r="2.1" fill="#000"/>
<circle cx="821.80" cy="191.00" r="2.1" fill="#000"/>
<line x1="604.80" y1="65.08" x2="604.80" y2="221.03" stroke="#000" stroke-width="1.45"/>
<line x1="598.60" y1="65.80" x2="604.80" y2="65.80" stroke="#000" stroke-width="1.45"/>
<text transform="translate(596.9999999999999 71.2) scale(0.96 1)" font-size="14.9" text-anchor="end">0.80</text>
<line x1="598.60" y1="143.05" x2="604.80" y2="143.05" stroke="#000" stroke-width="1.45"/>
<text transform="translate(596.9999999999999 148.45000000000002) scale(0.96 1)" font-size="14.9" text-anchor="end">0.75</text>
<line x1="598.60" y1="220.30" x2="604.80" y2="220.30" stroke="#000" stroke-width="1.45"/>
<text transform="translate(596.9999999999999 225.70000000000002) scale(0.96 1)" font-size="14.9" text-anchor="end">0.70</text>
<line x1="604.07" y1="220.30" x2="824.60" y2="220.30" stroke="#000" stroke-width="1.45"/>
<line x1="606.90" y1="220.30" x2="606.90" y2="226.80" stroke="#000" stroke-width="1.45"/>
<text transform="translate(606.9 242.0) scale(0.96 1)" font-size="14.9" text-anchor="middle">8AM</text>
<line x1="660.60" y1="220.30" x2="660.60" y2="226.80" stroke="#000" stroke-width="1.45"/>
<text transform="translate(660.6 242.0) scale(0.96 1)" font-size="14.9" text-anchor="middle">8PM</text>
<line x1="714.30" y1="220.30" x2="714.30" y2="226.80" stroke="#000" stroke-width="1.45"/>
<text transform="translate(714.3 242.0) scale(0.96 1)" font-size="14.9" text-anchor="middle">8AM</text>
<line x1="768.00" y1="220.30" x2="768.00" y2="226.80" stroke="#000" stroke-width="1.45"/>
<text transform="translate(768.0 242.0) scale(0.96 1)" font-size="14.9" text-anchor="middle">8PM</text>
<line x1="821.70" y1="220.30" x2="821.70" y2="226.80" stroke="#000" stroke-width="1.45"/>
<text transform="translate(821.7 242.0) scale(0.96 1)" font-size="14.9" text-anchor="middle">8AM</text>
<text transform="translate(561.0 159.4) rotate(-90) scale(1.03 1)" font-size="16.9">RER</text>
<line x1="621.50" y1="57.70" x2="637.20" y2="57.70" stroke="#000" stroke-width="1.4"/>
<circle cx="629.30" cy="57.70" r="1.9" fill="#000"/>
<text transform="translate(645.8 63.0) scale(0.96 1)" font-size="14.9">FA</text>
<line x1="621.50" y1="78.30" x2="637.20" y2="78.30" stroke="#ff0000" stroke-width="1.4"/>
<rect x="627.50" y="76.50" width="3.60" height="3.60" fill="#ff0000"/>
<text transform="translate(645.8 83.6) scale(0.96 1)" font-size="14.9">FT</text>
</g>
<g id="panel-f">
<line x1="895.70" y1="66.48" x2="895.70" y2="222.72" stroke="#000" stroke-width="1.45"/>
<line x1="888.90" y1="67.20" x2="895.70" y2="67.20" stroke="#000" stroke-width="1.45"/>
<text transform="translate(887.7 72.60000000000001) scale(0.97 1)" font-size="15.4" text-anchor="end">0.15</text>
<line x1="888.90" y1="118.80" x2="895.70" y2="118.80" stroke="#000" stroke-width="1.45"/>
<text transform="translate(887.7 124.2) scale(0.97 1)" font-size="15.4" text-anchor="end">0.10</text>
<line x1="888.90" y1="170.40" x2="895.70" y2="170.40" stroke="#000" stroke-width="1.45"/>
<text transform="translate(887.7 175.8) scale(0.97 1)" font-size="15.4" text-anchor="end">0.05</text>
<line x1="888.90" y1="222.00" x2="895.70" y2="222.00" stroke="#000" stroke-width="1.45"/>
<text transform="translate(887.7 227.4) scale(0.97 1)" font-size="15.4" text-anchor="end">0.00</text>
<line x1="894.98" y1="222.00" x2="1000.20" y2="222.00" stroke="#000" stroke-width="1.45"/>
<line x1="925.40" y1="222.00" x2="925.40" y2="228.50" stroke="#000" stroke-width="1.45"/>
<text transform="translate(925.4 244.0) scale(0.985 1)" font-size="15.2" text-anchor="middle">FA</text>
<line x1="970.00" y1="222.00" x2="970.00" y2="228.50" stroke="#000" stroke-width="1.45"/>
<text transform="translate(970 244.0) scale(0.985 1)" font-size="15.2" text-anchor="middle">FT</text>
<text transform="translate(850.2 168.4) rotate(-90) scale(1.035 1)" font-size="16.9"><tspan font-size="16.5" dy="-2.9" style="font-family:'DejaVu Sans','Liberation Sans',sans-serif">△</tspan><tspan dy="2.9" dx="2.6">RER</tspan></text>
<text transform="translate(910.6 62.9) scale(0.97 1)" font-size="13.2"><tspan font-style="italic">P</tspan>=0.0000011</text>
<polyline points="926.90,78.50 926.90,71.20 970.30,71.20 970.30,78.50" fill="none" stroke="#000" stroke-width="1.55"/>
<line x1="910.90" y1="147.80" x2="940.00" y2="147.80" stroke="#000" stroke-width="1.1"/>
<line x1="925.40" y1="144.40" x2="925.40" y2="151.30" stroke="#000" stroke-width="1.1"/>
<line x1="919.40" y1="144.40" x2="932.50" y2="144.40" stroke="#000" stroke-width="1.1"/>
<line x1="919.40" y1="151.30" x2="932.50" y2="151.30" stroke="#000" stroke-width="1.1"/>
<circle cx="925.40" cy="111.80" r="2.75" fill="#000"/>
<circle cx="925.40" cy="119.90" r="2.75" fill="#000"/>
<circle cx="934.90" cy="136.70" r="2.75" fill="#000"/>
<circle cx="925.40" cy="138.70" r="2.75" fill="#000"/>
<circle cx="934.90" cy="142.30" r="2.75" fill="#000"/>
<circle cx="915.90" cy="144.40" r="2.75" fill="#000"/>
<circle cx="925.40" cy="144.80" r="2.75" fill="#000"/>
<circle cx="915.90" cy="151.90" r="2.75" fill="#000"/>
<circle cx="925.40" cy="150.90" r="2.75" fill="#000"/>
<circle cx="934.90" cy="154.90" r="2.75" fill="#000"/>
<circle cx="925.40" cy="155.90" r="2.75" fill="#000"/>
<circle cx="925.40" cy="160.00" r="2.75" fill="#000"/>
<circle cx="915.90" cy="162.00" r="2.75" fill="#000"/>
<circle cx="934.90" cy="162.60" r="2.75" fill="#000"/>
<circle cx="920.80" cy="168.50" r="2.75" fill="#000"/>
<circle cx="930.10" cy="168.00" r="2.75" fill="#000"/>
<rect x="967.10" y="92.90" width="5.80" height="5.80" fill="#ff0000"/>
<rect x="954.50" y="98.40" width="5.80" height="5.80" fill="#ff0000"/>
<rect x="967.10" y="98.40" width="5.80" height="5.80" fill="#ff0000"/>
<rect x="960.60" y="101.00" width="5.80" height="5.80" fill="#ff0000"/>
<rect x="979.60" y="101.00" width="5.80" height="5.80" fill="#ff0000"/>
<rect x="973.10" y="102.40" width="5.80" height="5.80" fill="#ff0000"/>
<rect x="961.00" y="105.40" width="5.80" height="5.80" fill="#ff0000"/>
<rect x="973.10" y="107.50" width="5.80" height="5.80" fill="#ff0000"/>
<rect x="967.10" y="109.50" width="5.80" height="5.80" fill="#ff0000"/>
<rect x="973.10" y="114.50" width="5.80" height="5.80" fill="#ff0000"/>
<rect x="967.10" y="116.60" width="5.80" height="5.80" fill="#ff0000"/>
<rect x="954.50" y="119.60" width="5.80" height="5.80" fill="#ff0000"/>
<rect x="979.60" y="119.20" width="5.80" height="5.80" fill="#ff0000"/>
<rect x="973.10" y="122.00" width="5.80" height="5.80" fill="#ff0000"/>
<rect x="967.10" y="123.70" width="5.80" height="5.80" fill="#ff0000"/>
<rect x="967.10" y="154.20" width="5.80" height="5.80" fill="#ff0000"/>
<line x1="954.80" y1="114.80" x2="984.70" y2="114.80" stroke="#ff0000" stroke-width="1.1"/>
<line x1="970.00" y1="112.40" x2="970.00" y2="117.90" stroke="#ff0000" stroke-width="1.1"/>
<line x1="963.00" y1="112.40" x2="977.00" y2="112.40" stroke="#ff0000" stroke-width="1.1"/>
<line x1="963.00" y1="117.90" x2="977.00" y2="117.90" stroke="#ff0000" stroke-width="1.1"/>
</g>
<g id="panel-g">
<rect x="95.80" y="369.50" width="83.40" height="30.50" fill="#faf5df"/>
<line x1="95.80" y1="369.80" x2="179.20" y2="369.80" stroke="#f5e8b8" stroke-width="0.6"/>
<rect x="179.20" y="369.80" width="83.20" height="30.20" fill="#b8b8b8"/>
<line x1="95.80" y1="364.60" x2="95.80" y2="407.90" stroke="#222" stroke-width="1.6"/>
<line x1="179.20" y1="364.70" x2="179.20" y2="400.00" stroke="#222" stroke-width="1.6"/>
<line x1="262.40" y1="364.70" x2="262.40" y2="400.00" stroke="#222" stroke-width="1.6"/>
<line x1="91.80" y1="400.20" x2="294.00" y2="400.20" stroke="#222" stroke-width="1.7"/>
<text transform="translate(137 392.3)" font-size="19" text-anchor="middle">Day</text>
<text transform="translate(221.6 392.1)" font-size="19" text-anchor="middle">Night</text>
<text transform="translate(208.5 337.6)" font-size="12" text-anchor="middle">Received i.p. with SGC707</text>
<text transform="translate(208.4 350.5)" font-size="12" text-anchor="middle">in ZT0 or ZT12</text>
<text transform="translate(326 379.3)" font-size="12" text-anchor="middle">Continused with i.p.</text>
<text transform="translate(327.4 392.6)" font-size="12" text-anchor="middle">every other day</text>
<text transform="translate(20.2 431.3)" font-size="16.4">HFD for 4 weeks</text>
<g transform="translate(22.4,379.8) scale(1.05)">
<path d="M0.3,12.6 C0.3,4 6,0.3 13.6,0.3 C21.2,0.3 27,4 27,12.6 C27,13.4 26.4,13.8 25.6,13.8 L1.7,13.8 C0.9,13.8 0.3,13.4 0.3,12.6 Z" fill="#dc9550"/>
<rect x="1.4" y="13.3" width="24.4" height="2.2" rx="0.8" fill="#c62a2c"/>
<rect x="1.3" y="16.6" width="24.6" height="3.4" rx="1.1" fill="#6b3a2b"/>
<path d="M0.6,15.2 L26.8,15.2 L27.2,16.3 L26,17.4 L24.5,16.9 L22.5,17.6 L20.5,16.9 L18.5,17.6 L16.5,16.9 L14.5,17.6 L12.5,16.9 L10.5,17.6 L8.5,16.9 L6.5,17.6 L4.5,16.9 L2.5,17.6 L0.8,16.9 Z" fill="#7fba3f"/>
<path d="M1.5,19.7 L25.8,19.7 L25.8,20.8 L22.5,20.8 L19.4,22.6 L15.5,20.9 L1.5,20.9 Z" fill="#f6c41c"/>
<rect x="1.3" y="21" width="24.6" height="2.7" rx="1.1" fill="#6b3a2b"/>
<path d="M15.5,20.9 L22.5,20.8 L19.4,22.6 Z" fill="#f6c41c"/>
<path d="M0.3,24.6 C0.3,23.9 0.9,23.5 1.6,23.5 L25.7,23.5 C26.4,23.5 27,23.9 27,24.6 L27,25.6 C27,27.4 25.8,28.3 24.2,28.3 L3.1,28.3 C1.5,28.3 0.3,27.4 0.3,25.6 Z" fill="#dc9550"/>
</g>
<g transform="translate(54.6,380) scale(1.04)">
<path d="M12.4,0.6 C13,-0.2 14.5,-0.1 16.5,0.6 C22.5,2.6 27.3,6.3 29.6,10.6 C30.2,11.8 30,12.8 29,13.3 L26.2,14.9 L11.6,3.6 Z" fill="#d59b5e"/>
<path d="M11.6,3.2 C18,4.6 23,8.4 26.6,14.4 L1,26.6 C0.2,27 -0.3,26.4 0.2,25.6 Z" fill="#f8c63c"/>
<path d="M26.6,14.4 L1,26.6 C0.4,26.9 0,26.6 0,26.2 L26,13.4 Z" fill="#e3a647"/>
<circle cx="12.0" cy="8.4" r="2.6" fill="#d9503b"/>
<circle cx="18.8" cy="11.4" r="2.8" fill="#d9503b"/>
<circle cx="11.0" cy="15.6" r="2.7" fill="#d9503b"/>
<circle cx="6.4" cy="21.6" r="2.6" fill="#d9503b"/>
<circle cx="16.2" cy="19.2" r="2.2" fill="#d9503b"/>
</g>
<g transform="translate(0,0)">
<path d="M86.5,341 C79,339.4 67,339.6 56.4,343.4" fill="none" stroke="#b58c88" stroke-width="1.5" stroke-linecap="round"/>
<line x1="62.9" y1="308" x2="72.6" y2="317.3" stroke="#c4c4c4" stroke-width="1.3"/>
<line x1="61.4" y1="309.2" x2="64.2" y2="306.5" stroke="#bdbdbd" stroke-width="1.5"/>
<line x1="70.6" y1="318.8" x2="74.4" y2="315.2" stroke="#b9b9b9" stroke-width="1.8"/>
<line x1="72.6" y1="317.2" x2="80.8" y2="325.1" stroke="#d0d0d0" stroke-width="2.6"/>
<line x1="80.6" y1="324.9" x2="87" y2="331.1" stroke="#a6d1ea" stroke-width="2.6"/>
<line x1="86.8" y1="330.9" x2="90.4" y2="334.4" stroke="#2a9d8f" stroke-width="1.4"/>
<path d="M88,335.8 C85.8,334.6 84.4,332.8 84.1,330.4" fill="none" stroke="#c29691" stroke-width="1.9" stroke-linecap="round"/>
<path d="M88.6,347.4 C86.2,348.6 84.4,351 83.7,354" fill="none" stroke="#c29691" stroke-width="1.9" stroke-linecap="round"/>
<circle cx="115.6" cy="327.2" r="1.3" fill="#c9a09a"/>
<circle cx="115.6" cy="353.9" r="1.3" fill="#c9a09a"/>
<ellipse cx="118.4" cy="335.0" rx="1.9" ry="1.6" fill="#b88f8a"/>
<ellipse cx="118.4" cy="346.6" rx="1.9" ry="1.6" fill="#b88f8a"/>
<path d="M85.1,341.1 C85,338.6 85.4,336.6 86.4,335 C88,332.6 90.6,331.4 93.9,331.4 C96.4,331.4 97.8,332.4 99.6,333.2 C101.4,334 102.4,334.7 104,334.7 C105.6,334.7 106.6,334.5 107.6,333.9 C108.8,333.2 109.4,332.6 110.2,331.6 L113.6,328 C114.2,327.4 115.2,327.2 115.6,327.8 C116,328.4 115.6,329.2 115,329.8 L112.6,333.4 C113.2,334.6 113.8,335.4 114.8,335.8 C116,336.2 117,335.2 118.4,335.6 C119.8,336 120.4,336.8 121.4,337.4 C123,338.2 124.6,339.2 125.9,340.8 C124.6,342.4 123,343.4 121.4,344.2 C120.4,344.8 119.8,345.6 118.4,346 C117,346.4 116,345.4 114.8,345.8 C113.8,346.2 113.2,347 112.6,348 L115,351.4 C115.6,352 116,352.8 115.6,353.4 C115.2,354 114.2,353.8 113.6,353.2 L110.2,350 C109.4,349 108.8,348.4 107.6,347.9 C106.6,347.5 105.6,347.3 104,347.4 C102.4,347.5 101.4,348.2 99.6,349 C97.8,349.8 96.4,350.6 93.9,350.6 C90.6,350.6 88,349.6 86.4,347.2 C85.4,345.6 85,343.6 85.1,341.1 Z" fill="#4b4542"/>
</g>
<g transform="translate(88.5,101.4)">
<path d="M86.5,341 C79,339.4 67,339.6 56.4,343.4" fill="none" stroke="#b58c88" stroke-width="1.5" stroke-linecap="round"/>
<line x1="62.9" y1="308" x2="72.6" y2="317.3" stroke="#c4c4c4" stroke-width="1.3"/>
<line x1="61.4" y1="309.2" x2="64.2" y2="306.5" stroke="#bdbdbd" stroke-width="1.5"/>
<line x1="70.6" y1="318.8" x2="74.4" y2="315.2" stroke="#b9b9b9" stroke-width="1.8"/>
<line x1="72.6" y1="317.2" x2="80.8" y2="325.1" stroke="#d0d0d0" stroke-width="2.6"/>
<line x1="80.6" y1="324.9" x2="87" y2="331.1" stroke="#a6d1ea" stroke-width="2.6"/>
<line x1="86.8" y1="330.9" x2="90.4" y2="334.4" stroke="#2a9d8f" stroke-width="1.4"/>
<path d="M88,335.8 C85.8,334.6 84.4,332.8 84.1,330.4" fill="none" stroke="#c29691" stroke-width="1.9" stroke-linecap="round"/>
<path d="M88.6,347.4 C86.2,348.6 84.4,351 83.7,354" fill="none" stroke="#c29691" stroke-width="1.9" stroke-linecap="round"/>
<circle cx="115.6" cy="327.2" r="1.3" fill="#c9a09a"/>
<circle cx="115.6" cy="353.9" r="1.3" fill="#c9a09a"/>
<ellipse cx="118.4" cy="335.0" rx="1.9" ry="1.6" fill="#b88f8a"/>
<ellipse cx="118.4" cy="346.6" rx="1.9" ry="1.6" fill="#b88f8a"/>
<path d="M85.1,341.1 C85,338.6 85.4,336.6 86.4,335 C88,332.6 90.6,331.4 93.9,331.4 C96.4,331.4 97.8,332.4 99.6,333.2 C101.4,334 102.4,334.7 104,334.7 C105.6,334.7 106.6,334.5 107.6,333.9 C108.8,333.2 109.4,332.6 110.2,331.6 L113.6,328 C114.2,327.4 115.2,327.2 115.6,327.8 C116,328.4 115.6,329.2 115,329.8 L112.6,333.4 C113.2,334.6 113.8,335.4 114.8,335.8 C116,336.2 117,335.2 118.4,335.6 C119.8,336 120.4,336.8 121.4,337.4 C123,338.2 124.6,339.2 125.9,340.8 C124.6,342.4 123,343.4 121.4,344.2 C120.4,344.8 119.8,345.6 118.4,346 C117,346.4 116,345.4 114.8,345.8 C113.8,346.2 113.2,347 112.6,348 L115,351.4 C115.6,352 116,352.8 115.6,353.4 C115.2,354 114.2,353.8 113.6,353.2 L110.2,350 C109.4,349 108.8,348.4 107.6,347.9 C106.6,347.5 105.6,347.3 104,347.4 C102.4,347.5 101.4,348.2 99.6,349 C97.8,349.8 96.4,350.6 93.9,350.6 C90.6,350.6 88,349.6 86.4,347.2 C85.4,345.6 85,343.6 85.1,341.1 Z" fill="#4b4542"/>
</g>
<polygon points="93.20,353.6 98.40,353.6 98.40,357.9 101.20,357.9 95.8,362.7 90.40,357.9 93.20,357.9" fill="#ff0000" stroke="#b00000" stroke-width="0.6"/>
<polygon points="175.50,414.6 181.30,414.6 181.30,410.1 183.80,410.1 178.4,405.3 173.00,410.1 175.50,410.1" fill="#ff0000" stroke="#b00000" stroke-width="0.6"/>
</g>
<g id="panel-h">
<line x1="437.20" y1="303.38" x2="437.20" y2="460.33" stroke="#000" stroke-width="1.45"/>
<line x1="430.40" y1="304.10" x2="437.20" y2="304.10" stroke="#000" stroke-width="1.45"/>
<text transform="translate(428.79999999999995 309.5) scale(0.98 1)" font-size="15.4" text-anchor="end">60</text>
<line x1="430.40" y1="343.00" x2="437.20" y2="343.00" stroke="#000" stroke-width="1.45"/>
<text transform="translate(428.79999999999995 348.4) scale(0.98 1)" font-size="15.4" text-anchor="end">50</text>
<line x1="430.40" y1="381.90" x2="437.20" y2="381.90" stroke="#000" stroke-width="1.45"/>
<text transform="translate(428.79999999999995 387.29999999999995) scale(0.98 1)" font-size="15.4" text-anchor="end">40</text>
<line x1="430.40" y1="420.80" x2="437.20" y2="420.80" stroke="#000" stroke-width="1.45"/>
<text transform="translate(428.79999999999995 426.2) scale(0.98 1)" font-size="15.4" text-anchor="end">30</text>
<line x1="430.40" y1="459.60" x2="437.20" y2="459.60" stroke="#000" stroke-width="1.45"/>
<text transform="translate(428.79999999999995 465.0) scale(0.98 1)" font-size="15.4" text-anchor="end">20</text>
<line x1="436.47" y1="459.60" x2="541.00" y2="459.60" stroke="#000" stroke-width="1.45"/>
<line x1="457.40" y1="459.60" x2="457.40" y2="466.10" stroke="#000" stroke-width="1.45"/>
<text transform="translate(457.4 480.90000000000003) scale(0.985 1)" font-size="15.4" text-anchor="middle">Ctrl</text>
<line x1="488.60" y1="459.60" x2="488.60" y2="466.10" stroke="#000" stroke-width="1.45"/>
<text transform="translate(488.6 480.90000000000003) scale(0.985 1)" font-size="15.4" text-anchor="middle">ZT0</text>
<line x1="519.50" y1="459.60" x2="519.50" y2="466.10" stroke="#000" stroke-width="1.45"/>
<text transform="translate(519.5 480.90000000000003) scale(0.985 1)" font-size="15.4" text-anchor="middle">ZT12</text>
<text transform="translate(402.8 438.6) rotate(-90) scale(0.962 1)" font-size="17.3">Body weight (g)</text>
<text transform="translate(465.5 286.6) scale(0.97 1)" font-size="13.2"><tspan font-style="italic">P</tspan>=0.006</text>
<polyline points="456.80,302.30 456.80,295.00 521.00,295.00 521.00,302.30" fill="none" stroke="#000" stroke-width="1.55"/>
<text transform="translate(450 314.9) scale(0.97 1)" font-size="13.2"><tspan font-style="italic">P</tspan>=0.004</text>
<polyline points="456.80,329.50 456.80,322.40 490.20,322.40 490.20,329.50" fill="none" stroke="#000" stroke-width="1.55"/>
<line x1="447.10" y1="370.90" x2="467.80" y2="370.90" stroke="#000" stroke-width="1.1"/>
<line x1="457.40" y1="358.50" x2="457.40" y2="383.40" stroke="#000" stroke-width="1.1"/>
<line x1="452.20" y1="358.50" x2="462.70" y2="358.50" stroke="#000" stroke-width="1.1"/>
<line x1="452.20" y1="383.40" x2="462.70" y2="383.40" stroke="#000" stroke-width="1.1"/>
<circle cx="457.30" cy="337.30" r="2.75" fill="#000"/>
<circle cx="457.30" cy="347.60" r="2.75" fill="#000"/>
<circle cx="457.30" cy="373.30" r="2.75" fill="#000"/>
<circle cx="449.20" cy="400.60" r="2.75" fill="#000"/>
<circle cx="465.40" cy="396.40" r="2.75" fill="#000"/>
<line x1="477.90" y1="423.40" x2="498.80" y2="423.40" stroke="#0000d0" stroke-width="1.1"/>
<line x1="488.40" y1="419.40" x2="488.40" y2="427.60" stroke="#0000d0" stroke-width="1.1"/>
<line x1="483.60" y1="419.40" x2="493.70" y2="419.40" stroke="#0000d0" stroke-width="1.1"/>
<line x1="483.60" y1="427.60" x2="493.70" y2="427.60" stroke="#0000d0" stroke-width="1.1"/>
<rect x="477.70" y="414.60" width="5.60" height="5.60" fill="#0000d0"/>
<rect x="485.40" y="416.60" width="5.60" height="5.60" fill="#0000d0"/>
<rect x="493.70" y="411.60" width="5.60" height="5.60" fill="#0000d0"/>
<rect x="485.40" y="427.20" width="5.60" height="5.60" fill="#0000d0"/>
<rect x="485.40" y="433.20" width="5.60" height="5.60" fill="#0000d0"/>
<line x1="509.20" y1="419.60" x2="530.20" y2="419.60" stroke="#ff0000" stroke-width="1.1"/>
<line x1="519.40" y1="416.40" x2="519.40" y2="422.50" stroke="#ff0000" stroke-width="1.1"/>
<line x1="514.40" y1="416.40" x2="530.20" y2="416.40" stroke="#ff0000" stroke-width="1.1"/>
<line x1="514.40" y1="422.50" x2="530.20" y2="422.50" stroke="#ff0000" stroke-width="1.1"/>
<polygon points="511.30,413.88 508.10,420.28 514.50,420.28" fill="#ff0000"/>
<polygon points="519.40,410.88 516.20,417.28 522.60,417.28" fill="#ff0000"/>
<polygon points="527.50,410.88 524.30,417.28 530.70,417.28" fill="#ff0000"/>
<polygon points="527.50,416.88 524.30,423.28 530.70,423.28" fill="#ff0000"/>
<polygon points="519.40,427.48 516.20,433.88 522.60,433.88" fill="#ff0000"/>
</g>
<g id="panel-i">
<rect x="670.10" y="302.90" width="53.50" height="157.50" fill="#dcdcdc"/>
<rect x="775.90" y="302.90" width="55.10" height="157.50" fill="#dcdcdc"/>
<line x1="617.05" y1="434.40" x2="617.05" y2="425.00" stroke="#000" stroke-width="0.9"/>
<line x1="615.45" y1="425.00" x2="618.65" y2="425.00" stroke="#000" stroke-width="0.9"/>
<line x1="621.52" y1="429.50" x2="621.52" y2="418.00" stroke="#000" stroke-width="0.9"/>
<line x1="619.92" y1="418.00" x2="623.12" y2="418.00" stroke="#000" stroke-width="0.9"/>
<line x1="626.00" y1="425.90" x2="626.00" y2="416.00" stroke="#000" stroke-width="0.9"/>
<line x1="624.40" y1="416.00" x2="627.60" y2="416.00" stroke="#000" stroke-width="0.9"/>
<line x1="630.47" y1="415.20" x2="630.47" y2="407.00" stroke="#000" stroke-width="0.9"/>
<line x1="628.87" y1="407.00" x2="632.07" y2="407.00" stroke="#000" stroke-width="0.9"/>
<line x1="634.95" y1="413.10" x2="634.95" y2="403.00" stroke="#000" stroke-width="0.9"/>
<line x1="633.35" y1="403.00" x2="636.55" y2="403.00" stroke="#000" stroke-width="0.9"/>
<line x1="639.42" y1="402.40" x2="639.42" y2="394.00" stroke="#000" stroke-width="0.9"/>
<line x1="637.82" y1="394.00" x2="641.02" y2="394.00" stroke="#000" stroke-width="0.9"/>
<line x1="643.90" y1="431.30" x2="643.90" y2="422.00" stroke="#000" stroke-width="0.9"/>
<line x1="642.30" y1="422.00" x2="645.50" y2="422.00" stroke="#000" stroke-width="0.9"/>
<line x1="648.38" y1="404.90" x2="648.38" y2="397.00" stroke="#000" stroke-width="0.9"/>
<line x1="646.77" y1="397.00" x2="649.98" y2="397.00" stroke="#000" stroke-width="0.9"/>
<line x1="652.85" y1="403.00" x2="652.85" y2="390.00" stroke="#000" stroke-width="0.9"/>
<line x1="651.25" y1="390.00" x2="654.45" y2="390.00" stroke="#000" stroke-width="0.9"/>
<line x1="657.32" y1="408.30" x2="657.32" y2="398.00" stroke="#000" stroke-width="0.9"/>
<line x1="655.72" y1="398.00" x2="658.92" y2="398.00" stroke="#000" stroke-width="0.9"/>
<line x1="661.80" y1="396.90" x2="661.80" y2="386.60" stroke="#000" stroke-width="0.9"/>
<line x1="660.20" y1="386.60" x2="663.40" y2="386.60" stroke="#000" stroke-width="0.9"/>
<line x1="666.27" y1="419.40" x2="666.27" y2="410.00" stroke="#000" stroke-width="0.9"/>
<line x1="664.67" y1="410.00" x2="667.88" y2="410.00" stroke="#000" stroke-width="0.9"/>
<line x1="670.75" y1="397.50" x2="670.75" y2="391.40" stroke="#000" stroke-width="0.9"/>
<line x1="669.15" y1="391.40" x2="672.35" y2="391.40" stroke="#000" stroke-width="0.9"/>
<line x1="675.22" y1="409.70" x2="675.22" y2="397.50" stroke="#000" stroke-width="0.9"/>
<line x1="673.62" y1="397.50" x2="676.82" y2="397.50" stroke="#000" stroke-width="0.9"/>
<line x1="679.70" y1="409.10" x2="679.70" y2="398.00" stroke="#000" stroke-width="0.9"/>
<line x1="678.10" y1="398.00" x2="681.30" y2="398.00" stroke="#000" stroke-width="0.9"/>
<line x1="684.17" y1="401.20" x2="684.17" y2="392.70" stroke="#000" stroke-width="0.9"/>
<line x1="682.57" y1="392.70" x2="685.77" y2="392.70" stroke="#000" stroke-width="0.9"/>
<line x1="688.65" y1="409.10" x2="688.65" y2="401.00" stroke="#000" stroke-width="0.9"/>
<line x1="687.05" y1="401.00" x2="690.25" y2="401.00" stroke="#000" stroke-width="0.9"/>
<line x1="693.12" y1="414.30" x2="693.12" y2="406.00" stroke="#000" stroke-width="0.9"/>
<line x1="691.52" y1="406.00" x2="694.73" y2="406.00" stroke="#000" stroke-width="0.9"/>
<line x1="697.60" y1="409.70" x2="697.60" y2="397.00" stroke="#000" stroke-width="0.9"/>
<line x1="696.00" y1="397.00" x2="699.20" y2="397.00" stroke="#000" stroke-width="0.9"/>
<line x1="702.07" y1="410.00" x2="702.07" y2="399.00" stroke="#000" stroke-width="0.9"/>
<line x1="700.47" y1="399.00" x2="703.67" y2="399.00" stroke="#000" stroke-width="0.9"/>
<line x1="706.55" y1="400.90" x2="706.55" y2="392.00" stroke="#000" stroke-width="0.9"/>
<line x1="704.95" y1="392.00" x2="708.15" y2="392.00" stroke="#000" stroke-width="0.9"/>
<line x1="711.02" y1="410.30" x2="711.02" y2="401.00" stroke="#000" stroke-width="0.9"/>
<line x1="709.42" y1="401.00" x2="712.62" y2="401.00" stroke="#000" stroke-width="0.9"/>
<line x1="715.50" y1="400.50" x2="715.50" y2="387.00" stroke="#000" stroke-width="0.9"/>
<line x1="713.90" y1="387.00" x2="717.10" y2="387.00" stroke="#000" stroke-width="0.9"/>
<line x1="719.97" y1="412.10" x2="719.97" y2="404.00" stroke="#000" stroke-width="0.9"/>
<line x1="718.37" y1="404.00" x2="721.57" y2="404.00" stroke="#000" stroke-width="0.9"/>
<line x1="724.45" y1="421.90" x2="724.45" y2="414.00" stroke="#000" stroke-width="0.9"/>
<line x1="722.85" y1="414.00" x2="726.05" y2="414.00" stroke="#000" stroke-width="0.9"/>
<line x1="728.92" y1="409.70" x2="728.92" y2="400.00" stroke="#000" stroke-width="0.9"/>
<line x1="727.32" y1="400.00" x2="730.52" y2="400.00" stroke="#000" stroke-width="0.9"/>
<line x1="733.40" y1="393.70" x2="733.40" y2="381.60" stroke="#000" stroke-width="0.9"/>
<line x1="731.80" y1="381.60" x2="735.00" y2="381.60" stroke="#000" stroke-width="0.9"/>
<line x1="737.88" y1="397.70" x2="737.88" y2="388.60" stroke="#000" stroke-width="0.9"/>
<line x1="736.27" y1="388.60" x2="739.48" y2="388.60" stroke="#000" stroke-width="0.9"/>
<line x1="742.35" y1="403.40" x2="742.35" y2="395.00" stroke="#000" stroke-width="0.9"/>
<line x1="740.75" y1="395.00" x2="743.95" y2="395.00" stroke="#000" stroke-width="0.9"/>
<line x1="746.82" y1="391.90" x2="746.82" y2="378.50" stroke="#000" stroke-width="0.9"/>
<line x1="745.22" y1="378.50" x2="748.42" y2="378.50" stroke="#000" stroke-width="0.9"/>
<line x1="751.30" y1="412.10" x2="751.30" y2="402.00" stroke="#000" stroke-width="0.9"/>
<line x1="749.70" y1="402.00" x2="752.90" y2="402.00" stroke="#000" stroke-width="0.9"/>
<line x1="755.77" y1="386.40" x2="755.77" y2="368.80" stroke="#000" stroke-width="0.9"/>
<line x1="754.17" y1="368.80" x2="757.38" y2="368.80" stroke="#000" stroke-width="0.9"/>
<line x1="760.25" y1="385.20" x2="760.25" y2="371.90" stroke="#000" stroke-width="0.9"/>
<line x1="758.65" y1="371.90" x2="761.85" y2="371.90" stroke="#000" stroke-width="0.9"/>
<line x1="764.72" y1="386.70" x2="764.72" y2="377.70" stroke="#000" stroke-width="0.9"/>
<line x1="763.12" y1="377.70" x2="766.32" y2="377.70" stroke="#000" stroke-width="0.9"/>
<line x1="769.20" y1="380.40" x2="769.20" y2="360.90" stroke="#000" stroke-width="0.9"/>
<line x1="767.60" y1="360.90" x2="770.80" y2="360.90" stroke="#000" stroke-width="0.9"/>
<line x1="773.67" y1="382.60" x2="773.67" y2="360.30" stroke="#000" stroke-width="0.9"/>
<line x1="772.07" y1="360.30" x2="775.27" y2="360.30" stroke="#000" stroke-width="0.9"/>
<line x1="778.15" y1="373.10" x2="778.15" y2="345.90" stroke="#000" stroke-width="0.9"/>
<line x1="776.55" y1="345.90" x2="779.75" y2="345.90" stroke="#000" stroke-width="0.9"/>
<line x1="782.62" y1="372.50" x2="782.62" y2="358.30" stroke="#000" stroke-width="0.9"/>
<line x1="781.02" y1="358.30" x2="784.23" y2="358.30" stroke="#000" stroke-width="0.9"/>
<line x1="787.10" y1="399.00" x2="787.10" y2="382.20" stroke="#000" stroke-width="0.9"/>
<line x1="785.50" y1="382.20" x2="788.70" y2="382.20" stroke="#000" stroke-width="0.9"/>
<line x1="791.57" y1="399.80" x2="791.57" y2="387.60" stroke="#000" stroke-width="0.9"/>
<line x1="789.97" y1="387.60" x2="793.17" y2="387.60" stroke="#000" stroke-width="0.9"/>
<line x1="796.05" y1="402.20" x2="796.05" y2="386.40" stroke="#000" stroke-width="0.9"/>
<line x1="794.45" y1="386.40" x2="797.65" y2="386.40" stroke="#000" stroke-width="0.9"/>
<line x1="800.52" y1="409.70" x2="800.52" y2="401.60" stroke="#000" stroke-width="0.9"/>
<line x1="798.92" y1="401.60" x2="802.12" y2="401.60" stroke="#000" stroke-width="0.9"/>
<line x1="805.00" y1="407.30" x2="805.00" y2="394.70" stroke="#000" stroke-width="0.9"/>
<line x1="803.40" y1="394.70" x2="806.60" y2="394.70" stroke="#000" stroke-width="0.9"/>
<line x1="809.47" y1="411.90" x2="809.47" y2="403.00" stroke="#000" stroke-width="0.9"/>
<line x1="807.87" y1="403.00" x2="811.07" y2="403.00" stroke="#000" stroke-width="0.9"/>
<line x1="813.95" y1="401.60" x2="813.95" y2="386.40" stroke="#000" stroke-width="0.9"/>
<line x1="812.35" y1="386.40" x2="815.55" y2="386.40" stroke="#000" stroke-width="0.9"/>
<line x1="818.42" y1="399.20" x2="818.42" y2="379.80" stroke="#000" stroke-width="0.9"/>
<line x1="816.82" y1="379.80" x2="820.02" y2="379.80" stroke="#000" stroke-width="0.9"/>
<line x1="822.90" y1="401.60" x2="822.90" y2="391.30" stroke="#000" stroke-width="0.9"/>
<line x1="821.30" y1="391.30" x2="824.50" y2="391.30" stroke="#000" stroke-width="0.9"/>
<line x1="827.38" y1="411.50" x2="827.38" y2="403.00" stroke="#000" stroke-width="0.9"/>
<line x1="825.77" y1="403.00" x2="828.98" y2="403.00" stroke="#000" stroke-width="0.9"/>
<line x1="831.85" y1="428.20" x2="831.85" y2="420.00" stroke="#000" stroke-width="0.9"/>
<line x1="830.25" y1="420.00" x2="833.45" y2="420.00" stroke="#000" stroke-width="0.9"/>
<polyline points="617.05,434.40 621.52,429.50 626.00,425.90 630.47,415.20 634.95,413.10 639.42,402.40 643.90,431.30 648.38,404.90 652.85,403.00 657.32,408.30 661.80,396.90 666.27,419.40 670.75,397.50 675.22,409.70 679.70,409.10 684.17,401.20 688.65,409.10 693.12,414.30 697.60,409.70 702.07,410.00 706.55,400.90 711.02,410.30 715.50,400.50 719.97,412.10 724.45,421.90 728.92,409.70 733.40,393.70 737.88,397.70 742.35,403.40 746.82,391.90 751.30,412.10 755.77,386.40 760.25,385.20 764.72,386.70 769.20,380.40 773.67,382.60 778.15,373.10 782.62,372.50 787.10,399.00 791.57,399.80 796.05,402.20 800.52,409.70 805.00,407.30 809.47,411.90 813.95,401.60 818.42,399.20 822.90,401.60 827.38,411.50 831.85,428.20" fill="none" stroke="#000" stroke-width="1.5" stroke-linejoin="round"/>
<circle cx="617.05" cy="434.40" r="2.1" fill="#000"/>
<circle cx="621.52" cy="429.50" r="2.1" fill="#000"/>
<circle cx="626.00" cy="425.90" r="2.1" fill="#000"/>
<circle cx="630.47" cy="415.20" r="2.1" fill="#000"/>
<circle cx="634.95" cy="413.10" r="2.1" fill="#000"/>
<circle cx="639.42" cy="402.40" r="2.1" fill="#000"/>
<circle cx="643.90" cy="431.30" r="2.1" fill="#000"/>
<circle cx="648.38" cy="404.90" r="2.1" fill="#000"/>
<circle cx="652.85" cy="403.00" r="2.1" fill="#000"/>
<circle cx="657.32" cy="408.30" r="2.1" fill="#000"/>
<circle cx="661.80" cy="396.90" r="2.1" fill="#000"/>
<circle cx="666.27" cy="419.40" r="2.1" fill="#000"/>
<circle cx="670.75" cy="397.50" r="2.1" fill="#000"/>
<circle cx="675.22" cy="409.70" r="2.1" fill="#000"/>
<circle cx="679.70" cy="409.10" r="2.1" fill="#000"/>
<circle cx="684.17" cy="401.20" r="2.1" fill="#000"/>
<circle cx="688.65" cy="409.10" r="2.1" fill="#000"/>
<circle cx="693.12" cy="414.30" r="2.1" fill="#000"/>
<circle cx="697.60" cy="409.70" r="2.1" fill="#000"/>
<circle cx="702.07" cy="410.00" r="2.1" fill="#000"/>
<circle cx="706.55" cy="400.90" r="2.1" fill="#000"/>
<circle cx="711.02" cy="410.30" r="2.1" fill="#000"/>
<circle cx="715.50" cy="400.50" r="2.1" fill="#000"/>
<circle cx="719.97" cy="412.10" r="2.1" fill="#000"/>
<circle cx="724.45" cy="421.90" r="2.1" fill="#000"/>
<circle cx="728.92" cy="409.70" r="2.1" fill="#000"/>
<circle cx="733.40" cy="393.70" r="2.1" fill="#000"/>
<circle cx="737.88" cy="397.70" r="2.1" fill="#000"/>
<circle cx="742.35" cy="403.40" r="2.1" fill="#000"/>
<circle cx="746.82" cy="391.90" r="2.1" fill="#000"/>
<circle cx="751.30" cy="412.10" r="2.1" fill="#000"/>
<circle cx="755.77" cy="386.40" r="2.1" fill="#000"/>
<circle cx="760.25" cy="385.20" r="2.1" fill="#000"/>
<circle cx="764.72" cy="386.70" r="2.1" fill="#000"/>
<circle cx="769.20" cy="380.40" r="2.1" fill="#000"/>
<circle cx="773.67" cy="382.60" r="2.1" fill="#000"/>
<circle cx="778.15" cy="373.10" r="2.1" fill="#000"/>
<circle cx="782.62" cy="372.50" r="2.1" fill="#000"/>
<circle cx="787.10" cy="399.00" r="2.1" fill="#000"/>
<circle cx="791.57" cy="399.80" r="2.1" fill="#000"/>
<circle cx="796.05" cy="402.20" r="2.1" fill="#000"/>
<circle cx="800.52" cy="409.70" r="2.1" fill="#000"/>
<circle cx="805.00" cy="407.30" r="2.1" fill="#000"/>
<circle cx="809.47" cy="411.90" r="2.1" fill="#000"/>
<circle cx="813.95" cy="401.60" r="2.1" fill="#000"/>
<circle cx="818.42" cy="399.20" r="2.1" fill="#000"/>
<circle cx="822.90" cy="401.60" r="2.1" fill="#000"/>
<circle cx="827.38" cy="411.50" r="2.1" fill="#000"/>
<circle cx="831.85" cy="428.20" r="2.1" fill="#000"/>
<line x1="617.05" y1="418.50" x2="617.05" y2="410.00" stroke="#ff0000" stroke-width="0.9"/>
<line x1="615.45" y1="410.00" x2="618.65" y2="410.00" stroke="#ff0000" stroke-width="0.9"/>
<line x1="621.52" y1="423.00" x2="621.52" y2="415.00" stroke="#ff0000" stroke-width="0.9"/>
<line x1="619.92" y1="415.00" x2="623.12" y2="415.00" stroke="#ff0000" stroke-width="0.9"/>
<line x1="626.00" y1="424.00" x2="626.00" y2="415.00" stroke="#ff0000" stroke-width="0.9"/>
<line x1="624.40" y1="415.00" x2="627.60" y2="415.00" stroke="#ff0000" stroke-width="0.9"/>
<line x1="630.47" y1="403.60" x2="630.47" y2="394.00" stroke="#ff0000" stroke-width="0.9"/>
<line x1="628.87" y1="394.00" x2="632.07" y2="394.00" stroke="#ff0000" stroke-width="0.9"/>
<line x1="634.95" y1="402.00" x2="634.95" y2="391.00" stroke="#ff0000" stroke-width="0.9"/>
<line x1="633.35" y1="391.00" x2="636.55" y2="391.00" stroke="#ff0000" stroke-width="0.9"/>
<line x1="639.42" y1="383.50" x2="639.42" y2="367.00" stroke="#ff0000" stroke-width="0.9"/>
<line x1="637.82" y1="367.00" x2="641.02" y2="367.00" stroke="#ff0000" stroke-width="0.9"/>
<line x1="643.90" y1="392.00" x2="643.90" y2="380.00" stroke="#ff0000" stroke-width="0.9"/>
<line x1="642.30" y1="380.00" x2="645.50" y2="380.00" stroke="#ff0000" stroke-width="0.9"/>
<line x1="648.38" y1="398.10" x2="648.38" y2="385.00" stroke="#ff0000" stroke-width="0.9"/>
<line x1="646.77" y1="385.00" x2="649.98" y2="385.00" stroke="#ff0000" stroke-width="0.9"/>
<line x1="652.85" y1="379.30" x2="652.85" y2="364.00" stroke="#ff0000" stroke-width="0.9"/>
<line x1="651.25" y1="364.00" x2="654.45" y2="364.00" stroke="#ff0000" stroke-width="0.9"/>
<line x1="657.32" y1="380.00" x2="657.32" y2="368.00" stroke="#ff0000" stroke-width="0.9"/>
<line x1="655.72" y1="368.00" x2="658.92" y2="368.00" stroke="#ff0000" stroke-width="0.9"/>
<line x1="661.80" y1="362.50" x2="661.80" y2="344.00" stroke="#ff0000" stroke-width="0.9"/>
<line x1="660.20" y1="344.00" x2="663.40" y2="344.00" stroke="#ff0000" stroke-width="0.9"/>
<line x1="666.27" y1="380.50" x2="666.27" y2="366.00" stroke="#ff0000" stroke-width="0.9"/>
<line x1="664.67" y1="366.00" x2="667.88" y2="366.00" stroke="#ff0000" stroke-width="0.9"/>
<line x1="670.75" y1="348.30" x2="670.75" y2="335.00" stroke="#ff0000" stroke-width="0.9"/>
<line x1="669.15" y1="335.00" x2="672.35" y2="335.00" stroke="#ff0000" stroke-width="0.9"/>
<line x1="675.22" y1="346.20" x2="675.22" y2="331.90" stroke="#ff0000" stroke-width="0.9"/>
<line x1="673.62" y1="331.90" x2="676.82" y2="331.90" stroke="#ff0000" stroke-width="0.9"/>
<line x1="679.70" y1="360.50" x2="679.70" y2="348.00" stroke="#ff0000" stroke-width="0.9"/>
<line x1="678.10" y1="348.00" x2="681.30" y2="348.00" stroke="#ff0000" stroke-width="0.9"/>
<line x1="684.17" y1="349.00" x2="684.17" y2="339.20" stroke="#ff0000" stroke-width="0.9"/>
<line x1="682.57" y1="339.20" x2="685.77" y2="339.20" stroke="#ff0000" stroke-width="0.9"/>
<line x1="688.65" y1="362.00" x2="688.65" y2="346.10" stroke="#ff0000" stroke-width="0.9"/>
<line x1="687.05" y1="346.10" x2="690.25" y2="346.10" stroke="#ff0000" stroke-width="0.9"/>
<line x1="693.12" y1="357.00" x2="693.12" y2="331.90" stroke="#ff0000" stroke-width="0.9"/>
<line x1="691.52" y1="331.90" x2="694.73" y2="331.90" stroke="#ff0000" stroke-width="0.9"/>
<line x1="697.60" y1="376.90" x2="697.60" y2="365.00" stroke="#ff0000" stroke-width="0.9"/>
<line x1="696.00" y1="365.00" x2="699.20" y2="365.00" stroke="#ff0000" stroke-width="0.9"/>
<line x1="702.07" y1="376.90" x2="702.07" y2="364.00" stroke="#ff0000" stroke-width="0.9"/>
<line x1="700.47" y1="364.00" x2="703.67" y2="364.00" stroke="#ff0000" stroke-width="0.9"/>
<line x1="706.55" y1="396.30" x2="706.55" y2="384.00" stroke="#ff0000" stroke-width="0.9"/>
<line x1="704.95" y1="384.00" x2="708.15" y2="384.00" stroke="#ff0000" stroke-width="0.9"/>
<line x1="711.02" y1="402.40" x2="711.02" y2="392.00" stroke="#ff0000" stroke-width="0.9"/>
<line x1="709.42" y1="392.00" x2="712.62" y2="392.00" stroke="#ff0000" stroke-width="0.9"/>
<line x1="715.50" y1="402.00" x2="715.50" y2="380.50" stroke="#ff0000" stroke-width="0.9"/>
<line x1="713.90" y1="380.50" x2="717.10" y2="380.50" stroke="#ff0000" stroke-width="0.9"/>
<line x1="719.97" y1="408.40" x2="719.97" y2="398.00" stroke="#ff0000" stroke-width="0.9"/>
<line x1="718.37" y1="398.00" x2="721.57" y2="398.00" stroke="#ff0000" stroke-width="0.9"/>
<line x1="724.45" y1="411.50" x2="724.45" y2="402.00" stroke="#ff0000" stroke-width="0.9"/>
<line x1="722.85" y1="402.00" x2="726.05" y2="402.00" stroke="#ff0000" stroke-width="0.9"/>
<line x1="728.92" y1="415.20" x2="728.92" y2="406.00" stroke="#ff0000" stroke-width="0.9"/>
<line x1="727.32" y1="406.00" x2="730.52" y2="406.00" stroke="#ff0000" stroke-width="0.9"/>
<line x1="733.40" y1="402.80" x2="733.40" y2="392.00" stroke="#ff0000" stroke-width="0.9"/>
<line x1="731.80" y1="392.00" x2="735.00" y2="392.00" stroke="#ff0000" stroke-width="0.9"/>
<line x1="737.88" y1="397.40" x2="737.88" y2="388.00" stroke="#ff0000" stroke-width="0.9"/>
<line x1="736.27" y1="388.00" x2="739.48" y2="388.00" stroke="#ff0000" stroke-width="0.9"/>
<line x1="742.35" y1="391.90" x2="742.35" y2="381.00" stroke="#ff0000" stroke-width="0.9"/>
<line x1="740.75" y1="381.00" x2="743.95" y2="381.00" stroke="#ff0000" stroke-width="0.9"/>
<line x1="746.82" y1="391.00" x2="746.82" y2="380.00" stroke="#ff0000" stroke-width="0.9"/>
<line x1="745.22" y1="380.00" x2="748.42" y2="380.00" stroke="#ff0000" stroke-width="0.9"/>
<line x1="751.30" y1="402.20" x2="751.30" y2="392.00" stroke="#ff0000" stroke-width="0.9"/>
<line x1="749.70" y1="392.00" x2="752.90" y2="392.00" stroke="#ff0000" stroke-width="0.9"/>
<line x1="755.77" y1="372.50" x2="755.77" y2="360.00" stroke="#ff0000" stroke-width="0.9"/>
<line x1="754.17" y1="360.00" x2="757.38" y2="360.00" stroke="#ff0000" stroke-width="0.9"/>
<line x1="760.25" y1="359.10" x2="760.25" y2="344.30" stroke="#ff0000" stroke-width="0.9"/>
<line x1="758.65" y1="344.30" x2="761.85" y2="344.30" stroke="#ff0000" stroke-width="0.9"/>
<line x1="764.72" y1="379.20" x2="764.72" y2="367.00" stroke="#ff0000" stroke-width="0.9"/>
<line x1="763.12" y1="367.00" x2="766.32" y2="367.00" stroke="#ff0000" stroke-width="0.9"/>
<line x1="769.20" y1="327.00" x2="769.20" y2="313.40" stroke="#ff0000" stroke-width="0.9"/>
<line x1="767.60" y1="313.40" x2="770.80" y2="313.40" stroke="#ff0000" stroke-width="0.9"/>
<line x1="773.67" y1="331.60" x2="773.67" y2="315.80" stroke="#ff0000" stroke-width="0.9"/>
<line x1="772.07" y1="315.80" x2="775.27" y2="315.80" stroke="#ff0000" stroke-width="0.9"/>
<line x1="778.15" y1="327.30" x2="778.15" y2="308.70" stroke="#ff0000" stroke-width="0.9"/>
<line x1="776.55" y1="308.70" x2="779.75" y2="308.70" stroke="#ff0000" stroke-width="0.9"/>
<line x1="782.62" y1="334.00" x2="782.62" y2="322.00" stroke="#ff0000" stroke-width="0.9"/>
<line x1="781.02" y1="322.00" x2="784.23" y2="322.00" stroke="#ff0000" stroke-width="0.9"/>
<line x1="787.10" y1="342.30" x2="787.10" y2="328.00" stroke="#ff0000" stroke-width="0.9"/>
<line x1="785.50" y1="328.00" x2="788.70" y2="328.00" stroke="#ff0000" stroke-width="0.9"/>
<line x1="791.57" y1="344.30" x2="791.57" y2="323.10" stroke="#ff0000" stroke-width="0.9"/>
<line x1="789.97" y1="323.10" x2="793.17" y2="323.10" stroke="#ff0000" stroke-width="0.9"/>
<line x1="796.05" y1="334.00" x2="796.05" y2="316.00" stroke="#ff0000" stroke-width="0.9"/>
<line x1="794.45" y1="316.00" x2="797.65" y2="316.00" stroke="#ff0000" stroke-width="0.9"/>
<line x1="800.52" y1="339.50" x2="800.52" y2="316.40" stroke="#ff0000" stroke-width="0.9"/>
<line x1="798.92" y1="316.40" x2="802.12" y2="316.40" stroke="#ff0000" stroke-width="0.9"/>
<line x1="805.00" y1="357.90" x2="805.00" y2="346.40" stroke="#ff0000" stroke-width="0.9"/>
<line x1="803.40" y1="346.40" x2="806.60" y2="346.40" stroke="#ff0000" stroke-width="0.9"/>
<line x1="809.47" y1="381.00" x2="809.47" y2="370.00" stroke="#ff0000" stroke-width="0.9"/>
<line x1="807.87" y1="370.00" x2="811.07" y2="370.00" stroke="#ff0000" stroke-width="0.9"/>
<line x1="813.95" y1="385.80" x2="813.95" y2="373.10" stroke="#ff0000" stroke-width="0.9"/>
<line x1="812.35" y1="373.10" x2="815.55" y2="373.10" stroke="#ff0000" stroke-width="0.9"/>
<line x1="818.42" y1="382.60" x2="818.42" y2="361.20" stroke="#ff0000" stroke-width="0.9"/>
<line x1="816.82" y1="361.20" x2="820.02" y2="361.20" stroke="#ff0000" stroke-width="0.9"/>
<line x1="822.90" y1="382.80" x2="822.90" y2="369.70" stroke="#ff0000" stroke-width="0.9"/>
<line x1="821.30" y1="369.70" x2="824.50" y2="369.70" stroke="#ff0000" stroke-width="0.9"/>
<line x1="827.38" y1="390.70" x2="827.38" y2="384.60" stroke="#ff0000" stroke-width="0.9"/>
<line x1="825.77" y1="384.60" x2="828.98" y2="384.60" stroke="#ff0000" stroke-width="0.9"/>
<line x1="831.85" y1="405.90" x2="831.85" y2="399.60" stroke="#ff0000" stroke-width="0.9"/>
<line x1="830.25" y1="399.60" x2="833.45" y2="399.60" stroke="#ff0000" stroke-width="0.9"/>
<polyline points="617.05,418.50 621.52,423.00 626.00,424.00 630.47,403.60 634.95,402.00 639.42,383.50 643.90,392.00 648.38,398.10 652.85,379.30 657.32,380.00 661.80,362.50 666.27,380.50 670.75,348.30 675.22,346.20 679.70,360.50 684.17,349.00 688.65,362.00 693.12,357.00 697.60,376.90 702.07,376.90 706.55,396.30 711.02,402.40 715.50,402.00 719.97,408.40 724.45,411.50 728.92,415.20 733.40,402.80 737.88,397.40 742.35,391.90 746.82,391.00 751.30,402.20 755.77,372.50 760.25,359.10 764.72,379.20 769.20,327.00 773.67,331.60 778.15,327.30 782.62,334.00 787.10,342.30 791.57,344.30 796.05,334.00 800.52,339.50 805.00,357.90 809.47,381.00 813.95,385.80 818.42,382.60 822.90,382.80 827.38,390.70 831.85,405.90" fill="none" stroke="#ff0000" stroke-width="1.4" stroke-linejoin="round"/>
<polygon points="617.05,416.08 614.85,420.48 619.25,420.48" fill="#ff0000"/>
<polygon points="621.52,420.58 619.32,424.98 623.73,424.98" fill="#ff0000"/>
<polygon points="626.00,421.58 623.80,425.98 628.20,425.98" fill="#ff0000"/>
<polygon points="630.47,401.18 628.27,405.58 632.67,405.58" fill="#ff0000"/>
<polygon points="634.95,399.58 632.75,403.98 637.15,403.98" fill="#ff0000"/>
<polygon points="639.42,381.08 637.22,385.48 641.62,385.48" fill="#ff0000"/>
<polygon points="643.90,389.58 641.70,393.98 646.10,393.98" fill="#ff0000"/>
<polygon points="648.38,395.68 646.17,400.08 650.58,400.08" fill="#ff0000"/>
<polygon points="652.85,376.88 650.65,381.28 655.05,381.28" fill="#ff0000"/>
<polygon points="657.32,377.58 655.12,381.98 659.52,381.98" fill="#ff0000"/>
<polygon points="661.80,360.08 659.60,364.48 664.00,364.48" fill="#ff0000"/>
<polygon points="666.27,378.08 664.07,382.48 668.48,382.48" fill="#ff0000"/>
<polygon points="670.75,345.88 668.55,350.28 672.95,350.28" fill="#ff0000"/>
<polygon points="675.22,343.78 673.02,348.18 677.42,348.18" fill="#ff0000"/>
<polygon points="679.70,358.08 677.50,362.48 681.90,362.48" fill="#ff0000"/>
<polygon points="684.17,346.58 681.97,350.98 686.38,350.98" fill="#ff0000"/>
<polygon points="688.65,359.58 686.45,363.98 690.85,363.98" fill="#ff0000"/>
<polygon points="693.12,354.58 690.92,358.98 695.33,358.98" fill="#ff0000"/>
<polygon points="697.60,374.48 695.40,378.88 699.80,378.88" fill="#ff0000"/>
<polygon points="702.07,374.48 699.87,378.88 704.27,378.88" fill="#ff0000"/>
<polygon points="706.55,393.88 704.35,398.28 708.75,398.28" fill="#ff0000"/>
<polygon points="711.02,399.98 708.82,404.38 713.23,404.38" fill="#ff0000"/>
<polygon points="715.50,399.58 713.30,403.98 717.70,403.98" fill="#ff0000"/>
<polygon points="719.97,405.98 717.77,410.38 722.17,410.38" fill="#ff0000"/>
<polygon points="724.45,409.08 722.25,413.48 726.65,413.48" fill="#ff0000"/>
<polygon points="728.92,412.78 726.72,417.18 731.12,417.18" fill="#ff0000"/>
<polygon points="733.40,400.38 731.20,404.78 735.60,404.78" fill="#ff0000"/>
<polygon points="737.88,394.98 735.67,399.38 740.08,399.38" fill="#ff0000"/>
<polygon points="742.35,389.48 740.15,393.88 744.55,393.88" fill="#ff0000"/>
<polygon points="746.82,388.58 744.62,392.98 749.02,392.98" fill="#ff0000"/>
<polygon points="751.30,399.78 749.10,404.18 753.50,404.18" fill="#ff0000"/>
<polygon points="755.77,370.08 753.57,374.48 757.98,374.48" fill="#ff0000"/>
<polygon points="760.25,356.68 758.05,361.08 762.45,361.08" fill="#ff0000"/>
<polygon points="764.72,376.78 762.52,381.18 766.92,381.18" fill="#ff0000"/>
<polygon points="769.20,324.58 767.00,328.98 771.40,328.98" fill="#ff0000"/>
<polygon points="773.67,329.18 771.47,333.58 775.88,333.58" fill="#ff0000"/>
<polygon points="778.15,324.88 775.95,329.28 780.35,329.28" fill="#ff0000"/>
<polygon points="782.62,331.58 780.42,335.98 784.83,335.98" fill="#ff0000"/>
<polygon points="787.10,339.88 784.90,344.28 789.30,344.28" fill="#ff0000"/>
<polygon points="791.57,341.88 789.37,346.28 793.77,346.28" fill="#ff0000"/>
<polygon points="796.05,331.58 793.85,335.98 798.25,335.98" fill="#ff0000"/>
<polygon points="800.52,337.08 798.32,341.48 802.73,341.48" fill="#ff0000"/>
<polygon points="805.00,355.48 802.80,359.88 807.20,359.88" fill="#ff0000"/>
<polygon points="809.47,378.58 807.27,382.98 811.67,382.98" fill="#ff0000"/>
<polygon points="813.95,383.38 811.75,387.78 816.15,387.78" fill="#ff0000"/>
<polygon points="818.42,380.18 816.22,384.58 820.62,384.58" fill="#ff0000"/>
<polygon points="822.90,380.38 820.70,384.78 825.10,384.78" fill="#ff0000"/>
<polygon points="827.38,388.28 825.17,392.68 829.58,392.68" fill="#ff0000"/>
<polygon points="831.85,403.48 829.65,407.88 834.05,407.88" fill="#ff0000"/>
<line x1="617.05" y1="381.70" x2="617.05" y2="367.10" stroke="#0000ff" stroke-width="0.9"/>
<line x1="615.45" y1="367.10" x2="618.65" y2="367.10" stroke="#0000ff" stroke-width="0.9"/>
<line x1="621.52" y1="401.40" x2="621.52" y2="384.80" stroke="#0000ff" stroke-width="0.9"/>
<line x1="619.92" y1="384.80" x2="623.12" y2="384.80" stroke="#0000ff" stroke-width="0.9"/>
<line x1="626.00" y1="392.90" x2="626.00" y2="380.50" stroke="#0000ff" stroke-width="0.9"/>
<line x1="624.40" y1="380.50" x2="627.60" y2="380.50" stroke="#0000ff" stroke-width="0.9"/>
<line x1="630.47" y1="385.70" x2="630.47" y2="372.60" stroke="#0000ff" stroke-width="0.9"/>
<line x1="628.87" y1="372.60" x2="632.07" y2="372.60" stroke="#0000ff" stroke-width="0.9"/>
<line x1="634.95" y1="381.70" x2="634.95" y2="367.80" stroke="#0000ff" stroke-width="0.9"/>
<line x1="633.35" y1="367.80" x2="636.55" y2="367.80" stroke="#0000ff" stroke-width="0.9"/>
<line x1="639.42" y1="380.90" x2="639.42" y2="363.50" stroke="#0000ff" stroke-width="0.9"/>
<line x1="637.82" y1="363.50" x2="641.02" y2="363.50" stroke="#0000ff" stroke-width="0.9"/>
<line x1="643.90" y1="396.90" x2="643.90" y2="384.20" stroke="#0000ff" stroke-width="0.9"/>
<line x1="642.30" y1="384.20" x2="645.50" y2="384.20" stroke="#0000ff" stroke-width="0.9"/>
<line x1="648.38" y1="366.20" x2="648.38" y2="339.20" stroke="#0000ff" stroke-width="0.9"/>
<line x1="646.77" y1="339.20" x2="649.98" y2="339.20" stroke="#0000ff" stroke-width="0.9"/>
<line x1="652.85" y1="375.60" x2="652.85" y2="357.40" stroke="#0000ff" stroke-width="0.9"/>
<line x1="651.25" y1="357.40" x2="654.45" y2="357.40" stroke="#0000ff" stroke-width="0.9"/>
<line x1="657.32" y1="391.10" x2="657.32" y2="381.00" stroke="#0000ff" stroke-width="0.9"/>
<line x1="655.72" y1="381.00" x2="658.92" y2="381.00" stroke="#0000ff" stroke-width="0.9"/>
<line x1="661.80" y1="347.90" x2="661.80" y2="330.60" stroke="#0000ff" stroke-width="0.9"/>
<line x1="660.20" y1="330.60" x2="663.40" y2="330.60" stroke="#0000ff" stroke-width="0.9"/>
<line x1="666.27" y1="356.00" x2="666.27" y2="333.10" stroke="#0000ff" stroke-width="0.9"/>
<line x1="664.67" y1="333.10" x2="667.88" y2="333.10" stroke="#0000ff" stroke-width="0.9"/>
<line x1="670.75" y1="332.70" x2="670.75" y2="314.00" stroke="#0000ff" stroke-width="0.9"/>
<line x1="669.15" y1="314.00" x2="672.35" y2="314.00" stroke="#0000ff" stroke-width="0.9"/>
<line x1="675.22" y1="335.80" x2="675.22" y2="320.30" stroke="#0000ff" stroke-width="0.9"/>
<line x1="673.62" y1="320.30" x2="676.82" y2="320.30" stroke="#0000ff" stroke-width="0.9"/>
<line x1="679.70" y1="356.80" x2="679.70" y2="335.10" stroke="#0000ff" stroke-width="0.9"/>
<line x1="678.10" y1="335.10" x2="681.30" y2="335.10" stroke="#0000ff" stroke-width="0.9"/>
<line x1="684.17" y1="357.70" x2="684.17" y2="345.50" stroke="#0000ff" stroke-width="0.9"/>
<line x1="682.57" y1="345.50" x2="685.77" y2="345.50" stroke="#0000ff" stroke-width="0.9"/>
<line x1="688.65" y1="366.80" x2="688.65" y2="352.50" stroke="#0000ff" stroke-width="0.9"/>
<line x1="687.05" y1="352.50" x2="690.25" y2="352.50" stroke="#0000ff" stroke-width="0.9"/>
<line x1="693.12" y1="355.70" x2="693.12" y2="339.40" stroke="#0000ff" stroke-width="0.9"/>
<line x1="691.52" y1="339.40" x2="694.73" y2="339.40" stroke="#0000ff" stroke-width="0.9"/>
<line x1="697.60" y1="371.40" x2="697.60" y2="361.10" stroke="#0000ff" stroke-width="0.9"/>
<line x1="696.00" y1="361.10" x2="699.20" y2="361.10" stroke="#0000ff" stroke-width="0.9"/>
<line x1="702.07" y1="373.20" x2="702.07" y2="360.50" stroke="#0000ff" stroke-width="0.9"/>
<line x1="700.47" y1="360.50" x2="703.67" y2="360.50" stroke="#0000ff" stroke-width="0.9"/>
<line x1="706.55" y1="385.40" x2="706.55" y2="373.20" stroke="#0000ff" stroke-width="0.9"/>
<line x1="704.95" y1="373.20" x2="708.15" y2="373.20" stroke="#0000ff" stroke-width="0.9"/>
<line x1="711.02" y1="400.50" x2="711.02" y2="381.10" stroke="#0000ff" stroke-width="0.9"/>
<line x1="709.42" y1="381.10" x2="712.62" y2="381.10" stroke="#0000ff" stroke-width="0.9"/>
<line x1="715.50" y1="388.00" x2="715.50" y2="369.60" stroke="#0000ff" stroke-width="0.9"/>
<line x1="713.90" y1="369.60" x2="717.10" y2="369.60" stroke="#0000ff" stroke-width="0.9"/>
<line x1="719.97" y1="398.70" x2="719.97" y2="386.00" stroke="#0000ff" stroke-width="0.9"/>
<line x1="718.37" y1="386.00" x2="721.57" y2="386.00" stroke="#0000ff" stroke-width="0.9"/>
<line x1="724.45" y1="399.90" x2="724.45" y2="385.40" stroke="#0000ff" stroke-width="0.9"/>
<line x1="722.85" y1="385.40" x2="726.05" y2="385.40" stroke="#0000ff" stroke-width="0.9"/>
<line x1="728.92" y1="387.70" x2="728.92" y2="371.00" stroke="#0000ff" stroke-width="0.9"/>
<line x1="727.32" y1="371.00" x2="730.52" y2="371.00" stroke="#0000ff" stroke-width="0.9"/>
<line x1="733.40" y1="377.90" x2="733.40" y2="355.50" stroke="#0000ff" stroke-width="0.9"/>
<line x1="731.80" y1="355.50" x2="735.00" y2="355.50" stroke="#0000ff" stroke-width="0.9"/>
<line x1="737.88" y1="360.00" x2="737.88" y2="338.90" stroke="#0000ff" stroke-width="0.9"/>
<line x1="736.27" y1="338.90" x2="739.48" y2="338.90" stroke="#0000ff" stroke-width="0.9"/>
<line x1="742.35" y1="357.50" x2="742.35" y2="340.70" stroke="#0000ff" stroke-width="0.9"/>
<line x1="740.75" y1="340.70" x2="743.95" y2="340.70" stroke="#0000ff" stroke-width="0.9"/>
<line x1="746.82" y1="374.90" x2="746.82" y2="358.50" stroke="#0000ff" stroke-width="0.9"/>
<line x1="745.22" y1="358.50" x2="748.42" y2="358.50" stroke="#0000ff" stroke-width="0.9"/>
<line x1="751.30" y1="381.80" x2="751.30" y2="366.40" stroke="#0000ff" stroke-width="0.9"/>
<line x1="749.70" y1="366.40" x2="752.90" y2="366.40" stroke="#0000ff" stroke-width="0.9"/>
<line x1="755.77" y1="360.90" x2="755.77" y2="346.50" stroke="#0000ff" stroke-width="0.9"/>
<line x1="754.17" y1="346.50" x2="757.38" y2="346.50" stroke="#0000ff" stroke-width="0.9"/>
<line x1="760.25" y1="362.10" x2="760.25" y2="350.00" stroke="#0000ff" stroke-width="0.9"/>
<line x1="758.65" y1="350.00" x2="761.85" y2="350.00" stroke="#0000ff" stroke-width="0.9"/>
<line x1="764.72" y1="355.50" x2="764.72" y2="327.90" stroke="#0000ff" stroke-width="0.9"/>
<line x1="763.12" y1="327.90" x2="766.32" y2="327.90" stroke="#0000ff" stroke-width="0.9"/>
<line x1="769.20" y1="347.70" x2="769.20" y2="336.40" stroke="#0000ff" stroke-width="0.9"/>
<line x1="767.60" y1="336.40" x2="770.80" y2="336.40" stroke="#0000ff" stroke-width="0.9"/>
<line x1="773.67" y1="346.20" x2="773.67" y2="325.50" stroke="#0000ff" stroke-width="0.9"/>
<line x1="772.07" y1="325.50" x2="775.27" y2="325.50" stroke="#0000ff" stroke-width="0.9"/>
<line x1="778.15" y1="333.80" x2="778.15" y2="319.40" stroke="#0000ff" stroke-width="0.9"/>
<line x1="776.55" y1="319.40" x2="779.75" y2="319.40" stroke="#0000ff" stroke-width="0.9"/>
<line x1="782.62" y1="322.80" x2="782.62" y2="305.70" stroke="#0000ff" stroke-width="0.9"/>
<line x1="781.02" y1="305.70" x2="784.23" y2="305.70" stroke="#0000ff" stroke-width="0.9"/>
<line x1="787.10" y1="333.40" x2="787.10" y2="328.80" stroke="#0000ff" stroke-width="0.9"/>
<line x1="785.50" y1="328.80" x2="788.70" y2="328.80" stroke="#0000ff" stroke-width="0.9"/>
<line x1="791.57" y1="337.70" x2="791.57" y2="330.00" stroke="#0000ff" stroke-width="0.9"/>
<line x1="789.97" y1="330.00" x2="793.17" y2="330.00" stroke="#0000ff" stroke-width="0.9"/>
<line x1="796.05" y1="351.30" x2="796.05" y2="332.80" stroke="#0000ff" stroke-width="0.9"/>
<line x1="794.45" y1="332.80" x2="797.65" y2="332.80" stroke="#0000ff" stroke-width="0.9"/>
<line x1="800.52" y1="351.90" x2="800.52" y2="341.90" stroke="#0000ff" stroke-width="0.9"/>
<line x1="798.92" y1="341.90" x2="802.12" y2="341.90" stroke="#0000ff" stroke-width="0.9"/>
<line x1="805.00" y1="368.00" x2="805.00" y2="360.90" stroke="#0000ff" stroke-width="0.9"/>
<line x1="803.40" y1="360.90" x2="806.60" y2="360.90" stroke="#0000ff" stroke-width="0.9"/>
<line x1="809.47" y1="411.50" x2="809.47" y2="400.00" stroke="#0000ff" stroke-width="0.9"/>
<line x1="807.87" y1="400.00" x2="811.07" y2="400.00" stroke="#0000ff" stroke-width="0.9"/>
<line x1="813.95" y1="387.70" x2="813.95" y2="378.50" stroke="#0000ff" stroke-width="0.9"/>
<line x1="812.35" y1="378.50" x2="815.55" y2="378.50" stroke="#0000ff" stroke-width="0.9"/>
<line x1="818.42" y1="385.20" x2="818.42" y2="379.80" stroke="#0000ff" stroke-width="0.9"/>
<line x1="816.82" y1="379.80" x2="820.02" y2="379.80" stroke="#0000ff" stroke-width="0.9"/>
<line x1="822.90" y1="398.60" x2="822.90" y2="389.50" stroke="#0000ff" stroke-width="0.9"/>
<line x1="821.30" y1="389.50" x2="824.50" y2="389.50" stroke="#0000ff" stroke-width="0.9"/>
<line x1="827.38" y1="405.40" x2="827.38" y2="398.60" stroke="#0000ff" stroke-width="0.9"/>
<line x1="825.77" y1="398.60" x2="828.98" y2="398.60" stroke="#0000ff" stroke-width="0.9"/>
<line x1="831.85" y1="418.00" x2="831.85" y2="405.40" stroke="#0000ff" stroke-width="0.9"/>
<line x1="830.25" y1="405.40" x2="833.45" y2="405.40" stroke="#0000ff" stroke-width="0.9"/>
<polyline points="617.05,381.70 621.52,401.40 626.00,392.90 630.47,385.70 634.95,381.70 639.42,380.90 643.90,396.90 648.38,366.20 652.85,375.60 657.32,391.10 661.80,347.90 666.27,356.00 670.75,332.70 675.22,335.80 679.70,356.80 684.17,357.70 688.65,366.80 693.12,355.70 697.60,371.40 702.07,373.20 706.55,385.40 711.02,400.50 715.50,388.00 719.97,398.70 724.45,399.90 728.92,387.70 733.40,377.90 737.88,360.00 742.35,357.50 746.82,374.90 751.30,381.80 755.77,360.90 760.25,362.10 764.72,355.50 769.20,347.70 773.67,346.20 778.15,333.80 782.62,322.80 787.10,333.40 791.57,337.70 796.05,351.30 800.52,351.90 805.00,368.00 809.47,411.50 813.95,387.70 818.42,385.20 822.90,398.60 827.38,405.40 831.85,418.00" fill="none" stroke="#0000ff" stroke-width="1.5" stroke-linejoin="round"/>
<rect x="615.05" y="379.70" width="4.00" height="4.00" fill="#0000ff"/>
<rect x="619.52" y="399.40" width="4.00" height="4.00" fill="#0000ff"/>
<rect x="624.00" y="390.90" width="4.00" height="4.00" fill="#0000ff"/>
<rect x="628.47" y="383.70" width="4.00" height="4.00" fill="#0000ff"/>
<rect x="632.95" y="379.70" width="4.00" height="4.00" fill="#0000ff"/>
<rect x="637.42" y="378.90" width="4.00" height="4.00" fill="#0000ff"/>
<rect x="641.90" y="394.90" width="4.00" height="4.00" fill="#0000ff"/>
<rect x="646.38" y="364.20" width="4.00" height="4.00" fill="#0000ff"/>
<rect x="650.85" y="373.60" width="4.00" height="4.00" fill="#0000ff"/>
<rect x="655.32" y="389.10" width="4.00" height="4.00" fill="#0000ff"/>
<rect x="659.80" y="345.90" width="4.00" height="4.00" fill="#0000ff"/>
<rect x="664.27" y="354.00" width="4.00" height="4.00" fill="#0000ff"/>
<rect x="668.75" y="330.70" width="4.00" height="4.00" fill="#0000ff"/>
<rect x="673.22" y="333.80" width="4.00" height="4.00" fill="#0000ff"/>
<rect x="677.70" y="354.80" width="4.00" height="4.00" fill="#0000ff"/>
<rect x="682.17" y="355.70" width="4.00" height="4.00" fill="#0000ff"/>
<rect x="686.65" y="364.80" width="4.00" height="4.00" fill="#0000ff"/>
<rect x="691.12" y="353.70" width="4.00" height="4.00" fill="#0000ff"/>
<rect x="695.60" y="369.40" width="4.00" height="4.00" fill="#0000ff"/>
<rect x="700.07" y="371.20" width="4.00" height="4.00" fill="#0000ff"/>
<rect x="704.55" y="383.40" width="4.00" height="4.00" fill="#0000ff"/>
<rect x="709.02" y="398.50" width="4.00" height="4.00" fill="#0000ff"/>
<rect x="713.50" y="386.00" width="4.00" height="4.00" fill="#0000ff"/>
<rect x="717.97" y="396.70" width="4.00" height="4.00" fill="#0000ff"/>
<rect x="722.45" y="397.90" width="4.00" height="4.00" fill="#0000ff"/>
<rect x="726.92" y="385.70" width="4.00" height="4.00" fill="#0000ff"/>
<rect x="731.40" y="375.90" width="4.00" height="4.00" fill="#0000ff"/>
<rect x="735.88" y="358.00" width="4.00" height="4.00" fill="#0000ff"/>
<rect x="740.35" y="355.50" width="4.00" height="4.00" fill="#0000ff"/>
<rect x="744.82" y="372.90" width="4.00" height="4.00" fill="#0000ff"/>
<rect x="749.30" y="379.80" width="4.00" height="4.00" fill="#0000ff"/>
<rect x="753.77" y="358.90" width="4.00" height="4.00" fill="#0000ff"/>
<rect x="758.25" y="360.10" width="4.00" height="4.00" fill="#0000ff"/>
<rect x="762.72" y="353.50" width="4.00" height="4.00" fill="#0000ff"/>
<rect x="767.20" y="345.70" width="4.00" height="4.00" fill="#0000ff"/>
<rect x="771.67" y="344.20" width="4.00" height="4.00" fill="#0000ff"/>
<rect x="776.15" y="331.80" width="4.00" height="4.00" fill="#0000ff"/>
<rect x="780.62" y="320.80" width="4.00" height="4.00" fill="#0000ff"/>
<rect x="785.10" y="331.40" width="4.00" height="4.00" fill="#0000ff"/>
<rect x="789.57" y="335.70" width="4.00" height="4.00" fill="#0000ff"/>
<rect x="794.05" y="349.30" width="4.00" height="4.00" fill="#0000ff"/>
<rect x="798.52" y="349.90" width="4.00" height="4.00" fill="#0000ff"/>
<rect x="803.00" y="366.00" width="4.00" height="4.00" fill="#0000ff"/>
<rect x="807.47" y="409.50" width="4.00" height="4.00" fill="#0000ff"/>
<rect x="811.95" y="385.70" width="4.00" height="4.00" fill="#0000ff"/>
<rect x="816.42" y="383.20" width="4.00" height="4.00" fill="#0000ff"/>
<rect x="820.90" y="396.60" width="4.00" height="4.00" fill="#0000ff"/>
<rect x="825.38" y="403.40" width="4.00" height="4.00" fill="#0000ff"/>
<rect x="829.85" y="416.00" width="4.00" height="4.00" fill="#0000ff"/>
<line x1="615.30" y1="304.97" x2="615.30" y2="460.73" stroke="#000" stroke-width="1.45"/>
<line x1="609.10" y1="305.70" x2="615.30" y2="305.70" stroke="#000" stroke-width="1.45"/>
<text transform="translate(607.4999999999999 311.09999999999997) scale(0.96 1)" font-size="14.9" text-anchor="end">0.80</text>
<line x1="609.10" y1="382.80" x2="615.30" y2="382.80" stroke="#000" stroke-width="1.45"/>
<text transform="translate(607.4999999999999 388.2) scale(0.96 1)" font-size="14.9" text-anchor="end">0.75</text>
<line x1="609.10" y1="460.00" x2="615.30" y2="460.00" stroke="#000" stroke-width="1.45"/>
<text transform="translate(607.4999999999999 465.4) scale(0.96 1)" font-size="14.9" text-anchor="end">0.70</text>
<line x1="614.57" y1="460.00" x2="834.80" y2="460.00" stroke="#000" stroke-width="1.45"/>
<line x1="617.10" y1="460.00" x2="617.10" y2="466.50" stroke="#000" stroke-width="1.45"/>
<text transform="translate(617.1 481.3) scale(0.96 1)" font-size="14.9" text-anchor="middle">8AM</text>
<line x1="670.80" y1="460.00" x2="670.80" y2="466.50" stroke="#000" stroke-width="1.45"/>
<text transform="translate(670.8 481.3) scale(0.96 1)" font-size="14.9" text-anchor="middle">8PM</text>
<line x1="724.50" y1="460.00" x2="724.50" y2="466.50" stroke="#000" stroke-width="1.45"/>
<text transform="translate(724.5 481.3) scale(0.96 1)" font-size="14.9" text-anchor="middle">8AM</text>
<line x1="778.20" y1="460.00" x2="778.20" y2="466.50" stroke="#000" stroke-width="1.45"/>
<text transform="translate(778.2 481.3) scale(0.96 1)" font-size="14.9" text-anchor="middle">8PM</text>
<line x1="831.90" y1="460.00" x2="831.90" y2="466.50" stroke="#000" stroke-width="1.45"/>
<text transform="translate(831.9 481.3) scale(0.96 1)" font-size="14.9" text-anchor="middle">8AM</text>
<text transform="translate(571.4 399.6) rotate(-90) scale(1.03 1)" font-size="16.9">RER</text>
<line x1="631.80" y1="297.30" x2="647.30" y2="297.30" stroke="#000" stroke-width="1.4"/>
<circle cx="639.50" cy="297.30" r="1.9" fill="#000"/>
<text transform="translate(656.2 302.7) scale(0.96 1)" font-size="14.9">Ctrl</text>
<line x1="685.40" y1="297.30" x2="701.20" y2="297.30" stroke="#0000ff" stroke-width="1.4"/>
<rect x="691.50" y="295.50" width="3.60" height="3.60" fill="#0000ff"/>
<text transform="translate(709.4 302.7) scale(0.96 1)" font-size="14.9">ZT0</text>
<line x1="740.20" y1="297.30" x2="756.00" y2="297.30" stroke="#ff0000" stroke-width="1.4"/>
<polygon points="748.10,294.88 745.90,299.28 750.30,299.28" fill="#ff0000"/>
<text transform="translate(764.2 302.7) scale(0.96 1)" font-size="14.9">ZT12</text>
</g>
<g id="panel-j">
<line x1="896.30" y1="304.97" x2="896.30" y2="460.93" stroke="#000" stroke-width="1.45"/>
<line x1="889.50" y1="305.70" x2="896.30" y2="305.70" stroke="#000" stroke-width="1.45"/>
<text transform="translate(888.3 311.09999999999997) scale(0.97 1)" font-size="15.2" text-anchor="end">0.15</text>
<line x1="889.50" y1="357.20" x2="896.30" y2="357.20" stroke="#000" stroke-width="1.45"/>
<text transform="translate(888.3 362.59999999999997) scale(0.97 1)" font-size="15.2" text-anchor="end">0.10</text>
<line x1="889.50" y1="408.70" x2="896.30" y2="408.70" stroke="#000" stroke-width="1.45"/>
<text transform="translate(888.3 414.09999999999997) scale(0.97 1)" font-size="15.2" text-anchor="end">0.05</text>
<line x1="889.50" y1="460.20" x2="896.30" y2="460.20" stroke="#000" stroke-width="1.45"/>
<text transform="translate(888.3 465.59999999999997) scale(0.97 1)" font-size="15.2" text-anchor="end">0.00</text>
<line x1="895.57" y1="460.20" x2="1000.80" y2="460.20" stroke="#000" stroke-width="1.45"/>
<line x1="917.10" y1="460.20" x2="917.10" y2="466.70" stroke="#000" stroke-width="1.45"/>
<text transform="translate(917.1 481.59999999999997) scale(0.98 1)" font-size="15.3" text-anchor="middle">Ctrl</text>
<line x1="948.10" y1="460.20" x2="948.10" y2="466.70" stroke="#000" stroke-width="1.45"/>
<text transform="translate(948.1 481.59999999999997) scale(0.98 1)" font-size="15.3" text-anchor="middle">ZT0</text>
<line x1="979.30" y1="460.20" x2="979.30" y2="466.70" stroke="#000" stroke-width="1.45"/>
<text transform="translate(979.3 481.59999999999997) scale(0.98 1)" font-size="15.3" text-anchor="middle">ZT12</text>
<text transform="translate(850.9 406.7) rotate(-90) scale(1.035 1)" font-size="16.9"><tspan font-size="16.5" dy="-2.9" style="font-family:'DejaVu Sans','Liberation Sans',sans-serif">△</tspan><tspan dy="2.9" dx="2.6">RER</tspan></text>
<text transform="translate(923.3 293.3) scale(0.97 1)" font-size="13.2"><tspan font-style="italic">P</tspan>=0.046</text>
<polyline points="915.30,308.60 915.30,301.20 979.60,301.20 979.60,308.60" fill="none" stroke="#000" stroke-width="1.55"/>
<text transform="translate(904.4 321.1) scale(0.97 1)" font-size="13.2"><tspan font-style="italic">P</tspan>=0.0096</text>
<polyline points="915.30,336.40 915.30,329.00 948.50,329.00 948.50,336.40" fill="none" stroke="#000" stroke-width="1.55"/>
<line x1="907.00" y1="388.70" x2="927.80" y2="388.70" stroke="#000" stroke-width="1.1"/>
<line x1="917.30" y1="384.70" x2="917.30" y2="393.20" stroke="#000" stroke-width="1.1"/>
<line x1="912.20" y1="384.70" x2="922.30" y2="384.70" stroke="#000" stroke-width="1.1"/>
<line x1="912.20" y1="393.20" x2="922.30" y2="393.20" stroke="#000" stroke-width="1.1"/>
<circle cx="912.40" cy="379.20" r="2.75" fill="#000"/>
<circle cx="921.90" cy="380.00" r="2.75" fill="#000"/>
<circle cx="917.30" cy="389.30" r="2.75" fill="#000"/>
<circle cx="917.30" cy="393.40" r="2.75" fill="#000"/>
<circle cx="917.30" cy="402.50" r="2.75" fill="#000"/>
<line x1="938.10" y1="361.00" x2="958.60" y2="361.00" stroke="#2222cc" stroke-width="1.1"/>
<line x1="948.30" y1="354.30" x2="948.30" y2="368.10" stroke="#2222cc" stroke-width="1.1"/>
<line x1="943.00" y1="354.30" x2="953.50" y2="354.30" stroke="#2222cc" stroke-width="1.1"/>
<line x1="943.00" y1="368.10" x2="953.50" y2="368.10" stroke="#2222cc" stroke-width="1.1"/>
<rect x="940.80" y="341.40" width="5.60" height="5.60" fill="#0000d0"/>
<rect x="950.10" y="344.40" width="5.60" height="5.60" fill="#0000d0"/>
<rect x="945.50" y="358.20" width="5.60" height="5.60" fill="#0000d0"/>
<rect x="940.80" y="374.80" width="5.60" height="5.60" fill="#0000d0"/>
<rect x="950.10" y="373.20" width="5.60" height="5.60" fill="#0000d0"/>
<line x1="969.30" y1="366.60" x2="989.60" y2="366.60" stroke="#ff0000" stroke-width="1.1"/>
<line x1="979.40" y1="358.30" x2="979.40" y2="374.90" stroke="#ff0000" stroke-width="1.1"/>
<line x1="974.40" y1="358.30" x2="984.50" y2="358.30" stroke="#ff0000" stroke-width="1.1"/>
<line x1="974.40" y1="374.90" x2="984.50" y2="374.90" stroke="#ff0000" stroke-width="1.1"/>
<polygon points="979.40,343.68 976.20,350.08 982.60,350.08" fill="#ff0000"/>
<polygon points="979.40,348.38 976.20,354.78 982.60,354.78" fill="#ff0000"/>
<polygon points="979.40,357.88 976.20,364.28 982.60,364.28" fill="#ff0000"/>
<polygon points="974.60,382.58 971.40,388.98 977.80,388.98" fill="#ff0000"/>
<polygon points="984.10,382.58 980.90,388.98 987.30,388.98" fill="#ff0000"/>
</g>
</svg>
</body>
</html>
